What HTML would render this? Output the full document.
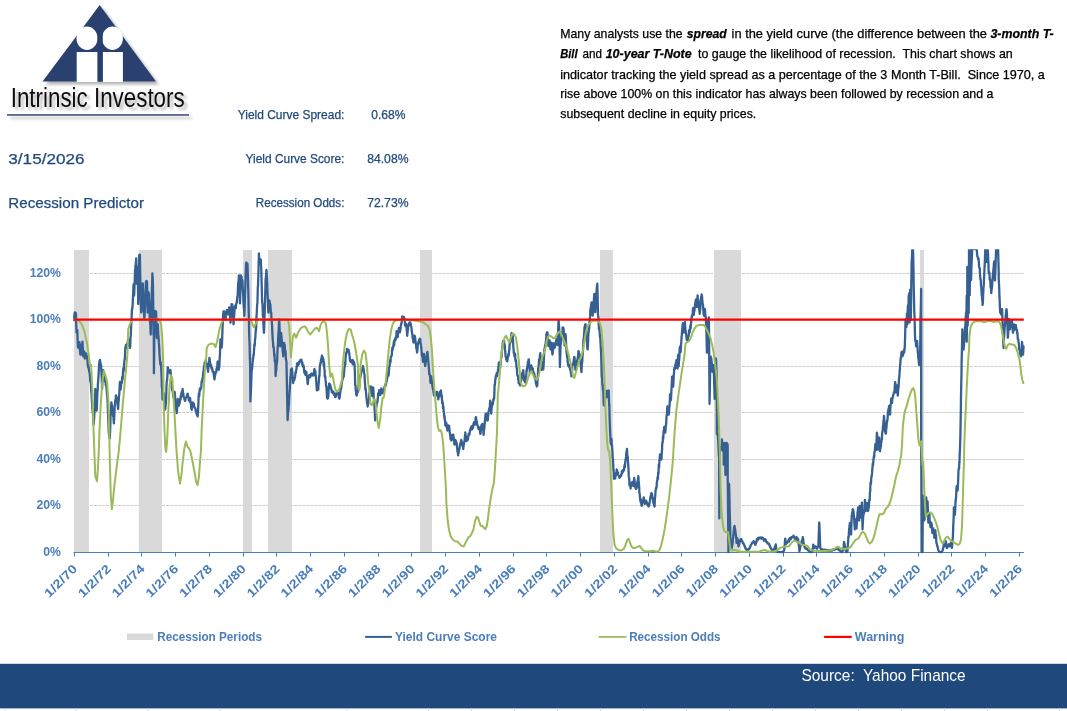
<!DOCTYPE html>
<html lang="en"><head><meta charset="utf-8"><title>Recession Predictor</title>
<style>html,body{margin:0;padding:0;background:#fff;width:1067px;height:711px;overflow:hidden}</style></head>
<body>
<svg width="1067" height="711" viewBox="0 0 1067 711" style="position:absolute;left:0;top:0;display:block" font-family="'Liberation Sans', sans-serif">
<defs><filter id="ds" filterUnits="userSpaceOnUse" x="0" y="0" width="220" height="130"><feGaussianBlur in="SourceAlpha" stdDeviation="1.5"/><feOffset dx="2.5" dy="2.5"/><feComponentTransfer><feFuncA type="linear" slope="0.3"/></feComponentTransfer><feMerge><feMergeNode/><feMergeNode in="SourceGraphic"/></feMerge></filter></defs>
<rect width="1067" height="711" fill="#fff"/>
<g id="logo">
<g filter="url(#ds)">
<path d="M99.7 5 L156 81.5 L42.5 81.5 Z" fill="#2B3F6E"/>
<text x="10.7" y="107" font-size="27.5" textLength="174" lengthAdjust="spacingAndGlyphs" fill="#111">Intrinsic Investors</text>
<rect x="7" y="114.2" width="182" height="1.5" fill="#33477A"/>
</g>
<ellipse cx="87" cy="38.2" rx="10.5" ry="11.7" fill="#fff"/><ellipse cx="112.5" cy="38.2" rx="10.4" ry="11.7" fill="#fff"/>
<rect x="76.7" y="52" width="20.9" height="30" fill="#fff"/><rect x="102.7" y="52" width="20.2" height="30" fill="#fff"/>
<rect x="97.6" y="30" width="5.1" height="51.5" fill="#2B3F6E"/>
</g>
<text x="8.3" y="163.7" font-size="14.80" text-anchor="start" fill="#1F497D" stroke="#1F497D" stroke-width="0.25" textLength="76.3" lengthAdjust="spacingAndGlyphs" >3/15/2026</text>
<text x="8.3" y="207.8" font-size="14.80" text-anchor="start" fill="#1F497D" stroke="#1F497D" stroke-width="0.25" textLength="135.7" lengthAdjust="spacingAndGlyphs" >Recession Predictor</text>
<text x="237.7" y="119.0" font-size="12.00" text-anchor="start" fill="#1F497D" stroke="#1F497D" stroke-width="0.25" textLength="106.7" lengthAdjust="spacingAndGlyphs" >Yield Curve Spread:</text>
<text x="245.6" y="162.9" font-size="12.00" text-anchor="start" fill="#1F497D" stroke="#1F497D" stroke-width="0.25" textLength="98.8" lengthAdjust="spacingAndGlyphs" >Yield Curve Score:</text>
<text x="255.8" y="206.8" font-size="12.00" text-anchor="start" fill="#1F497D" stroke="#1F497D" stroke-width="0.25" textLength="88.6" lengthAdjust="spacingAndGlyphs" >Recession Odds:</text>
<text x="371.2" y="119.0" font-size="12.00" text-anchor="start" fill="#1F497D" stroke="#1F497D" stroke-width="0.25" textLength="34.2" lengthAdjust="spacingAndGlyphs" >0.68%</text>
<text x="367.2" y="162.9" font-size="12.00" text-anchor="start" fill="#1F497D" stroke="#1F497D" stroke-width="0.25" textLength="41.3" lengthAdjust="spacingAndGlyphs" >84.08%</text>
<text x="367.2" y="206.8" font-size="12.00" text-anchor="start" fill="#1F497D" stroke="#1F497D" stroke-width="0.25" textLength="41.3" lengthAdjust="spacingAndGlyphs" >72.73%</text>
<text x="560.2" y="38.3" font-size="12.60" text-anchor="start" fill="#000" stroke="#000" stroke-width="0.25" textLength="122.5" lengthAdjust="spacingAndGlyphs" >Many analysts use the</text>
<text x="686.7" y="38.3" font-size="12.60" text-anchor="start" fill="#000" stroke="#000" stroke-width="0.25" textLength="40.0" lengthAdjust="spacingAndGlyphs" font-weight="bold" font-style="italic">spread</text>
<text x="731.6" y="38.3" font-size="12.60" text-anchor="start" fill="#000" stroke="#000" stroke-width="0.25" textLength="255.4" lengthAdjust="spacingAndGlyphs" >in the yield curve (the difference between the</text>
<text x="990.4" y="38.3" font-size="12.60" text-anchor="start" fill="#000" stroke="#000" stroke-width="0.25" textLength="63.3" lengthAdjust="spacingAndGlyphs" font-weight="bold" font-style="italic">3-month T-</text>
<text x="560.2" y="58.3" font-size="12.60" text-anchor="start" fill="#000" stroke="#000" stroke-width="0.25" textLength="17.3" lengthAdjust="spacingAndGlyphs" font-weight="bold" font-style="italic">Bill</text>
<text x="582.5" y="58.3" font-size="12.60" text-anchor="start" fill="#000" stroke="#000" stroke-width="0.25" textLength="19.5" lengthAdjust="spacingAndGlyphs" >and</text>
<text x="605.7" y="58.3" font-size="12.60" text-anchor="start" fill="#000" stroke="#000" stroke-width="0.25" textLength="85.9" lengthAdjust="spacingAndGlyphs" font-weight="bold" font-style="italic">10-year T-Note</text>
<text x="698.0" y="58.3" font-size="12.60" text-anchor="start" fill="#000" stroke="#000" stroke-width="0.25" textLength="314.7" lengthAdjust="spacingAndGlyphs" xml:space="preserve">to gauge the likelihood of recession.  This chart shows an</text>
<text x="560.2" y="78.5" font-size="12.60" text-anchor="start" fill="#000" stroke="#000" stroke-width="0.25" textLength="484.6" lengthAdjust="spacingAndGlyphs" xml:space="preserve">indicator tracking the yield spread as a percentage of the 3 Month T-Bill.  Since 1970, a</text>
<text x="560.2" y="98.0" font-size="12.60" text-anchor="start" fill="#000" stroke="#000" stroke-width="0.25" textLength="433.2" lengthAdjust="spacingAndGlyphs" >rise above 100% on this indicator has always been followed by recession and a</text>
<text x="560.2" y="117.5" font-size="12.60" text-anchor="start" fill="#000" stroke="#000" stroke-width="0.25" textLength="196.1" lengthAdjust="spacingAndGlyphs" >subsequent decline in equity prices.</text>
<g id="chart">
<clipPath id="cp"><rect x="73" y="249.2" width="952" height="304.5"/></clipPath>
<rect x="74.0" y="250" width="14.9" height="302.2" fill="#D9D9D9"/>
<rect x="138.9" y="250" width="23.1" height="302.2" fill="#D9D9D9"/>
<rect x="243.2" y="250" width="8.6" height="302.2" fill="#D9D9D9"/>
<rect x="268.0" y="250" width="23.8" height="302.2" fill="#D9D9D9"/>
<rect x="420.2" y="250" width="11.8" height="302.2" fill="#D9D9D9"/>
<rect x="600.2" y="250" width="12.5" height="302.2" fill="#D9D9D9"/>
<rect x="714.1" y="250" width="26.7" height="302.2" fill="#D9D9D9"/>
<rect x="920.3" y="250" width="3.5" height="302.2" fill="#D9D9D9"/>
<line x1="74" x2="1023.8" y1="505.5" y2="505.5" stroke="#CBCBCB" stroke-width="1" stroke-dasharray="3 1"/>
<line x1="74" x2="1023.8" y1="459.5" y2="459.5" stroke="#CBCBCB" stroke-width="1" stroke-dasharray="3 1"/>
<line x1="74" x2="1023.8" y1="412.5" y2="412.5" stroke="#CBCBCB" stroke-width="1" stroke-dasharray="3 1"/>
<line x1="74" x2="1023.8" y1="366.5" y2="366.5" stroke="#CBCBCB" stroke-width="1" stroke-dasharray="3 1"/>
<line x1="74" x2="1023.8" y1="319.5" y2="319.5" stroke="#CBCBCB" stroke-width="1" stroke-dasharray="3 1"/>
<line x1="74" x2="1023.8" y1="273.5" y2="273.5" stroke="#CBCBCB" stroke-width="1" stroke-dasharray="3 1"/>
<rect x="74.0" y="250" width="14.9" height="302.2" fill="#D9D9D9"/>
<rect x="138.9" y="250" width="23.1" height="302.2" fill="#D9D9D9"/>
<rect x="243.2" y="250" width="8.6" height="302.2" fill="#D9D9D9"/>
<rect x="268.0" y="250" width="23.8" height="302.2" fill="#D9D9D9"/>
<rect x="420.2" y="250" width="11.8" height="302.2" fill="#D9D9D9"/>
<rect x="600.2" y="250" width="12.5" height="302.2" fill="#D9D9D9"/>
<rect x="714.1" y="250" width="26.7" height="302.2" fill="#D9D9D9"/>
<rect x="920.3" y="250" width="3.5" height="302.2" fill="#D9D9D9"/>
<line x1="73.5" x2="1023.8" y1="552.5" y2="552.5" stroke="#4A7EBB" stroke-width="1"/>
<line x1="74.5" x2="74.5" y1="552.5" y2="556.6" stroke="#4A7EBB" stroke-width="1"/>
<text transform="translate(77.9,569.5) rotate(-45)" font-size="12.2" font-weight="bold" text-anchor="end" fill="#4A7EBB" textLength="40.5" lengthAdjust="spacingAndGlyphs">1/2/70</text>
<line x1="108.5" x2="108.5" y1="552.5" y2="556.6" stroke="#4A7EBB" stroke-width="1"/>
<text transform="translate(111.7,569.5) rotate(-45)" font-size="12.2" font-weight="bold" text-anchor="end" fill="#4A7EBB" textLength="40.5" lengthAdjust="spacingAndGlyphs">1/2/72</text>
<line x1="141.5" x2="141.5" y1="552.5" y2="556.6" stroke="#4A7EBB" stroke-width="1"/>
<text transform="translate(145.4,569.5) rotate(-45)" font-size="12.2" font-weight="bold" text-anchor="end" fill="#4A7EBB" textLength="40.5" lengthAdjust="spacingAndGlyphs">1/2/74</text>
<line x1="175.5" x2="175.5" y1="552.5" y2="556.6" stroke="#4A7EBB" stroke-width="1"/>
<text transform="translate(179.2,569.5) rotate(-45)" font-size="12.2" font-weight="bold" text-anchor="end" fill="#4A7EBB" textLength="40.5" lengthAdjust="spacingAndGlyphs">1/2/76</text>
<line x1="209.5" x2="209.5" y1="552.5" y2="556.6" stroke="#4A7EBB" stroke-width="1"/>
<text transform="translate(212.9,569.5) rotate(-45)" font-size="12.2" font-weight="bold" text-anchor="end" fill="#4A7EBB" textLength="40.5" lengthAdjust="spacingAndGlyphs">1/2/78</text>
<line x1="243.5" x2="243.5" y1="552.5" y2="556.6" stroke="#4A7EBB" stroke-width="1"/>
<text transform="translate(246.7,569.5) rotate(-45)" font-size="12.2" font-weight="bold" text-anchor="end" fill="#4A7EBB" textLength="40.5" lengthAdjust="spacingAndGlyphs">1/2/80</text>
<line x1="276.5" x2="276.5" y1="552.5" y2="556.6" stroke="#4A7EBB" stroke-width="1"/>
<text transform="translate(280.4,569.5) rotate(-45)" font-size="12.2" font-weight="bold" text-anchor="end" fill="#4A7EBB" textLength="40.5" lengthAdjust="spacingAndGlyphs">1/2/82</text>
<line x1="310.5" x2="310.5" y1="552.5" y2="556.6" stroke="#4A7EBB" stroke-width="1"/>
<text transform="translate(314.1,569.5) rotate(-45)" font-size="12.2" font-weight="bold" text-anchor="end" fill="#4A7EBB" textLength="40.5" lengthAdjust="spacingAndGlyphs">1/2/84</text>
<line x1="344.5" x2="344.5" y1="552.5" y2="556.6" stroke="#4A7EBB" stroke-width="1"/>
<text transform="translate(347.9,569.5) rotate(-45)" font-size="12.2" font-weight="bold" text-anchor="end" fill="#4A7EBB" textLength="40.5" lengthAdjust="spacingAndGlyphs">1/2/86</text>
<line x1="378.5" x2="378.5" y1="552.5" y2="556.6" stroke="#4A7EBB" stroke-width="1"/>
<text transform="translate(381.6,569.5) rotate(-45)" font-size="12.2" font-weight="bold" text-anchor="end" fill="#4A7EBB" textLength="40.5" lengthAdjust="spacingAndGlyphs">1/2/88</text>
<line x1="411.5" x2="411.5" y1="552.5" y2="556.6" stroke="#4A7EBB" stroke-width="1"/>
<text transform="translate(415.4,569.5) rotate(-45)" font-size="12.2" font-weight="bold" text-anchor="end" fill="#4A7EBB" textLength="40.5" lengthAdjust="spacingAndGlyphs">1/2/90</text>
<line x1="445.5" x2="445.5" y1="552.5" y2="556.6" stroke="#4A7EBB" stroke-width="1"/>
<text transform="translate(449.1,569.5) rotate(-45)" font-size="12.2" font-weight="bold" text-anchor="end" fill="#4A7EBB" textLength="40.5" lengthAdjust="spacingAndGlyphs">1/2/92</text>
<line x1="479.5" x2="479.5" y1="552.5" y2="556.6" stroke="#4A7EBB" stroke-width="1"/>
<text transform="translate(482.9,569.5) rotate(-45)" font-size="12.2" font-weight="bold" text-anchor="end" fill="#4A7EBB" textLength="40.5" lengthAdjust="spacingAndGlyphs">1/2/94</text>
<line x1="513.5" x2="513.5" y1="552.5" y2="556.6" stroke="#4A7EBB" stroke-width="1"/>
<text transform="translate(516.6,569.5) rotate(-45)" font-size="12.2" font-weight="bold" text-anchor="end" fill="#4A7EBB" textLength="40.5" lengthAdjust="spacingAndGlyphs">1/2/96</text>
<line x1="546.5" x2="546.5" y1="552.5" y2="556.6" stroke="#4A7EBB" stroke-width="1"/>
<text transform="translate(550.4,569.5) rotate(-45)" font-size="12.2" font-weight="bold" text-anchor="end" fill="#4A7EBB" textLength="40.5" lengthAdjust="spacingAndGlyphs">1/2/98</text>
<line x1="580.5" x2="580.5" y1="552.5" y2="556.6" stroke="#4A7EBB" stroke-width="1"/>
<text transform="translate(584.1,569.5) rotate(-45)" font-size="12.2" font-weight="bold" text-anchor="end" fill="#4A7EBB" textLength="40.5" lengthAdjust="spacingAndGlyphs">1/2/00</text>
<line x1="614.5" x2="614.5" y1="552.5" y2="556.6" stroke="#4A7EBB" stroke-width="1"/>
<text transform="translate(617.9,569.5) rotate(-45)" font-size="12.2" font-weight="bold" text-anchor="end" fill="#4A7EBB" textLength="40.5" lengthAdjust="spacingAndGlyphs">1/2/02</text>
<line x1="648.5" x2="648.5" y1="552.5" y2="556.6" stroke="#4A7EBB" stroke-width="1"/>
<text transform="translate(651.6,569.5) rotate(-45)" font-size="12.2" font-weight="bold" text-anchor="end" fill="#4A7EBB" textLength="40.5" lengthAdjust="spacingAndGlyphs">1/2/04</text>
<line x1="681.5" x2="681.5" y1="552.5" y2="556.6" stroke="#4A7EBB" stroke-width="1"/>
<text transform="translate(685.4,569.5) rotate(-45)" font-size="12.2" font-weight="bold" text-anchor="end" fill="#4A7EBB" textLength="40.5" lengthAdjust="spacingAndGlyphs">1/2/06</text>
<line x1="715.5" x2="715.5" y1="552.5" y2="556.6" stroke="#4A7EBB" stroke-width="1"/>
<text transform="translate(719.1,569.5) rotate(-45)" font-size="12.2" font-weight="bold" text-anchor="end" fill="#4A7EBB" textLength="40.5" lengthAdjust="spacingAndGlyphs">1/2/08</text>
<line x1="749.5" x2="749.5" y1="552.5" y2="556.6" stroke="#4A7EBB" stroke-width="1"/>
<text transform="translate(752.9,569.5) rotate(-45)" font-size="12.2" font-weight="bold" text-anchor="end" fill="#4A7EBB" textLength="40.5" lengthAdjust="spacingAndGlyphs">1/2/10</text>
<line x1="783.5" x2="783.5" y1="552.5" y2="556.6" stroke="#4A7EBB" stroke-width="1"/>
<text transform="translate(786.6,569.5) rotate(-45)" font-size="12.2" font-weight="bold" text-anchor="end" fill="#4A7EBB" textLength="40.5" lengthAdjust="spacingAndGlyphs">1/2/12</text>
<line x1="816.5" x2="816.5" y1="552.5" y2="556.6" stroke="#4A7EBB" stroke-width="1"/>
<text transform="translate(820.4,569.5) rotate(-45)" font-size="12.2" font-weight="bold" text-anchor="end" fill="#4A7EBB" textLength="40.5" lengthAdjust="spacingAndGlyphs">1/2/14</text>
<line x1="850.5" x2="850.5" y1="552.5" y2="556.6" stroke="#4A7EBB" stroke-width="1"/>
<text transform="translate(854.1,569.5) rotate(-45)" font-size="12.2" font-weight="bold" text-anchor="end" fill="#4A7EBB" textLength="40.5" lengthAdjust="spacingAndGlyphs">1/2/16</text>
<line x1="884.5" x2="884.5" y1="552.5" y2="556.6" stroke="#4A7EBB" stroke-width="1"/>
<text transform="translate(887.9,569.5) rotate(-45)" font-size="12.2" font-weight="bold" text-anchor="end" fill="#4A7EBB" textLength="40.5" lengthAdjust="spacingAndGlyphs">1/2/18</text>
<line x1="918.5" x2="918.5" y1="552.5" y2="556.6" stroke="#4A7EBB" stroke-width="1"/>
<text transform="translate(921.6,569.5) rotate(-45)" font-size="12.2" font-weight="bold" text-anchor="end" fill="#4A7EBB" textLength="40.5" lengthAdjust="spacingAndGlyphs">1/2/20</text>
<line x1="951.5" x2="951.5" y1="552.5" y2="556.6" stroke="#4A7EBB" stroke-width="1"/>
<text transform="translate(955.4,569.5) rotate(-45)" font-size="12.2" font-weight="bold" text-anchor="end" fill="#4A7EBB" textLength="40.5" lengthAdjust="spacingAndGlyphs">1/2/22</text>
<line x1="985.5" x2="985.5" y1="552.5" y2="556.6" stroke="#4A7EBB" stroke-width="1"/>
<text transform="translate(989.1,569.5) rotate(-45)" font-size="12.2" font-weight="bold" text-anchor="end" fill="#4A7EBB" textLength="40.5" lengthAdjust="spacingAndGlyphs">1/2/24</text>
<line x1="1019.5" x2="1019.5" y1="552.5" y2="556.6" stroke="#4A7EBB" stroke-width="1"/>
<text transform="translate(1022.9,569.5) rotate(-45)" font-size="12.2" font-weight="bold" text-anchor="end" fill="#4A7EBB" textLength="40.5" lengthAdjust="spacingAndGlyphs">1/2/26</text>
<text x="60.8" y="555.8" font-size="12.2" font-weight="bold" text-anchor="end" fill="#4A7EBB">0%</text>
<text x="60.8" y="509.3" font-size="12.2" font-weight="bold" text-anchor="end" fill="#4A7EBB">20%</text>
<text x="60.8" y="463.3" font-size="12.2" font-weight="bold" text-anchor="end" fill="#4A7EBB">40%</text>
<text x="60.8" y="416.3" font-size="12.2" font-weight="bold" text-anchor="end" fill="#4A7EBB">60%</text>
<text x="60.8" y="370.3" font-size="12.2" font-weight="bold" text-anchor="end" fill="#4A7EBB">80%</text>
<text x="60.8" y="323.3" font-size="12.2" font-weight="bold" text-anchor="end" fill="#4A7EBB">100%</text>
<text x="60.8" y="277.3" font-size="12.2" font-weight="bold" text-anchor="end" fill="#4A7EBB">120%</text>
<path d="M74.1 318.9 L74.1 320.1 L74.4 314.8 L74.7 313.2 L74.7 312.5 L75.0 313.8 L75.3 312.5 L75.6 313.1 L75.7 313.4 L75.9 313.1 L76.2 323.1 L76.4 329.4 L76.5 332.2 L76.8 332.6 L77.1 332.9 L77.4 330.2 L77.4 332.8 L77.7 343.0 L77.8 344.6 L78.0 347.3 L78.3 344.2 L78.6 348.0 L78.8 348.0 L78.9 344.5 L79.2 343.2 L79.5 342.1 L79.5 342.9 L79.8 346.0 L80.1 352.8 L80.1 353.0 L80.4 354.5 L80.7 353.3 L81.0 353.8 L81.1 354.7 L81.3 351.9 L81.6 347.3 L81.8 344.6 L81.9 345.2 L82.2 344.1 L82.5 341.6 L82.5 342.9 L82.8 348.1 L83.1 353.9 L83.2 356.4 L83.4 356.2 L83.7 354.4 L84.0 352.8 L84.2 351.3 L84.3 352.0 L84.6 356.1 L84.9 358.5 L85.2 357.0 L85.2 358.1 L85.5 356.1 L85.8 357.4 L86.1 353.4 L86.2 354.7 L86.4 355.0 L86.7 355.1 L87.0 358.3 L87.3 358.7 L87.6 361.9 L87.6 363.1 L87.9 365.9 L88.2 367.6 L88.5 367.9 L88.6 366.5 L88.8 368.4 L89.1 371.2 L89.4 372.1 L89.7 373.4 L90.0 377.5 L90.3 381.7 L90.3 380.3 L90.6 381.0 L90.9 384.2 L91.2 392.0 L91.5 392.6 L91.6 395.5 L91.8 398.9 L92.1 403.6 L92.4 409.3 L92.6 410.7 L92.7 410.7 L93.0 414.6 L93.3 420.4 L93.6 424.3 L93.6 424.2 L93.9 421.3 L94.2 417.0 L94.5 411.2 L94.8 407.4 L95.0 402.3 L95.1 398.5 L95.3 388.8 L95.4 390.7 L95.7 396.9 L96.0 398.1 L96.3 404.6 L96.6 408.0 L96.7 410.7 L96.9 406.5 L97.2 397.8 L97.5 391.0 L97.8 389.0 L97.8 385.4 L98.1 381.6 L98.4 377.4 L98.7 373.0 L99.0 365.9 L99.0 365.0 L99.3 363.1 L99.6 360.6 L99.9 362.1 L100.0 359.8 L100.2 361.8 L100.5 362.9 L100.8 364.7 L101.1 365.3 L101.1 365.0 L101.4 372.5 L101.7 377.7 L102.0 387.3 L102.1 388.8 L102.3 384.5 L102.6 379.5 L102.9 373.3 L103.1 370.2 L103.2 371.0 L103.5 373.2 L103.8 374.3 L104.1 374.8 L104.4 376.3 L104.6 378.6 L104.7 380.1 L105.0 379.6 L105.3 382.0 L105.6 381.6 L105.8 385.4 L105.9 384.5 L106.2 384.7 L106.5 387.8 L106.8 391.5 L107.1 394.6 L107.1 392.1 L107.4 398.2 L107.7 403.2 L108.0 412.7 L108.0 412.4 L108.3 419.8 L108.6 428.1 L108.8 432.6 L108.9 433.0 L109.2 436.5 L109.5 435.9 L109.8 437.1 L109.8 438.5 L110.1 431.2 L110.4 422.2 L110.5 415.8 L110.7 413.9 L111.0 408.6 L111.3 403.8 L111.4 402.3 L111.6 404.1 L111.9 404.8 L112.2 407.1 L112.5 411.4 L112.5 409.0 L112.8 413.9 L113.1 416.4 L113.4 416.0 L113.7 421.1 L113.9 423.4 L114.0 421.5 L114.3 416.8 L114.6 408.8 L114.7 405.6 L114.9 405.8 L115.2 401.3 L115.5 399.2 L115.8 398.6 L115.9 395.5 L116.1 396.6 L116.4 399.8 L116.7 398.5 L117.0 397.8 L117.3 401.8 L117.3 400.6 L117.6 403.6 L117.9 406.5 L118.1 409.0 L118.2 406.8 L118.5 402.1 L118.8 400.4 L118.9 395.5 L119.1 396.2 L119.4 392.3 L119.7 384.8 L119.8 383.7 L120.0 381.9 L120.3 386.8 L120.6 389.7 L120.6 388.8 L120.9 388.3 L121.2 382.8 L121.5 382.0 L121.8 383.0 L122.0 380.3 L122.1 377.2 L122.4 379.8 L122.7 378.5 L123.0 371.9 L123.2 371.9 L123.3 368.5 L123.6 371.6 L123.9 367.9 L124.0 365.0 L124.2 363.1 L124.5 360.0 L124.8 359.3 L125.1 352.6 L125.4 347.4 L125.7 347.5 L125.7 346.3 L126.0 344.9 L126.3 346.8 L126.6 348.1 L126.9 344.4 L127.2 343.8 L127.4 344.6 L127.5 342.6 L127.8 343.7 L128.1 338.8 L128.2 339.5 L128.4 342.3 L128.7 342.8 L129.0 345.6 L129.3 346.5 L129.6 344.3 L129.9 345.7 L129.9 348.0 L130.2 346.7 L130.5 337.5 L130.8 335.4 L131.1 326.5 L131.1 327.7 L131.4 320.8 L131.7 316.3 L131.8 312.5 L132.0 308.9 L132.3 308.4 L132.6 305.7 L132.8 300.7 L132.9 298.3 L133.2 292.2 L133.5 284.5 L133.5 287.2 L133.8 290.4 L134.1 292.0 L134.1 295.6 L134.4 289.6 L134.7 281.3 L135.0 271.6 L135.0 270.3 L135.3 268.2 L135.6 264.8 L135.9 262.6 L136.2 258.7 L136.2 258.5 L136.5 271.6 L136.8 279.8 L136.8 283.8 L137.1 276.3 L137.4 269.6 L137.5 266.9 L137.7 275.5 L138.0 289.5 L138.2 304.1 L138.3 302.6 L138.6 288.8 L138.9 272.2 L139.2 255.3 L139.2 255.1 L139.5 255.6 L139.8 254.6 L139.9 255.1 L140.1 267.6 L140.4 283.0 L140.5 295.6 L140.7 297.7 L141.0 305.6 L141.2 312.5 L141.3 311.5 L141.6 299.2 L141.9 289.8 L141.9 288.9 L142.2 289.1 L142.5 286.9 L142.8 283.4 L142.9 285.5 L143.1 290.6 L143.4 301.5 L143.6 310.8 L143.7 311.3 L144.0 312.5 L144.3 318.1 L144.3 319.3 L144.6 314.4 L144.9 309.2 L145.2 304.1 L145.3 299.0 L145.5 295.9 L145.8 286.9 L145.9 282.1 L146.1 283.8 L146.4 280.8 L146.7 281.9 L147.0 281.5 L147.0 281.3 L147.3 294.4 L147.6 307.1 L147.6 312.5 L147.9 307.2 L148.2 303.1 L148.5 294.9 L148.6 292.3 L148.8 293.7 L149.1 300.8 L149.4 308.0 L149.7 316.8 L149.7 315.9 L150.0 321.4 L150.3 323.8 L150.6 333.0 L150.7 334.5 L150.9 327.7 L151.2 317.9 L151.5 304.7 L151.7 295.6 L151.8 292.5 L152.1 285.3 L152.4 273.4 L152.4 273.7 L152.7 278.6 L153.0 285.4 L153.0 287.2 L153.3 311.1 L153.5 335.0 L153.6 329.3 L153.7 315.9 L153.9 357.4 L153.9 373.3 L154.2 351.4 L154.3 338.0 L154.4 329.4 L154.5 329.3 L154.8 320.4 L155.1 318.8 L155.4 312.1 L155.4 310.8 L155.7 311.6 L156.0 311.6 L156.1 312.5 L156.3 318.5 L156.6 330.9 L156.8 337.0 L156.9 338.0 L157.2 330.0 L157.5 326.5 L157.8 325.5 L157.8 324.3 L158.1 331.2 L158.4 337.0 L158.7 339.4 L158.8 342.9 L159.0 344.2 L159.3 348.6 L159.5 354.7 L159.6 355.0 L159.9 359.1 L160.2 364.0 L160.5 362.1 L160.5 365.0 L160.8 362.6 L161.1 366.0 L161.1 365.1 L161.4 373.0 L161.7 379.5 L161.8 387.1 L162.0 387.0 L162.3 391.9 L162.5 398.9 L162.6 399.6 L162.9 396.7 L163.2 395.7 L163.5 397.5 L163.8 393.5 L163.8 395.5 L164.1 398.4 L164.4 401.1 L164.7 404.1 L164.9 409.0 L165.0 409.5 L165.3 408.8 L165.6 405.3 L165.9 403.4 L165.9 403.9 L166.2 397.3 L166.5 385.3 L166.5 385.4 L166.8 380.9 L167.1 380.2 L167.4 375.9 L167.6 370.2 L167.7 367.5 L168.0 367.5 L168.3 372.4 L168.6 370.7 L168.9 372.4 L169.2 371.8 L169.5 371.6 L169.6 371.9 L169.8 373.0 L170.1 373.1 L170.4 369.9 L170.7 373.0 L170.9 373.6 L171.0 376.2 L171.3 379.5 L171.6 382.8 L171.9 386.6 L171.9 387.1 L172.2 390.3 L172.5 389.0 L172.8 391.5 L173.1 394.8 L173.3 395.5 L173.4 397.3 L173.7 393.5 L174.0 391.9 L174.3 391.7 L174.6 392.0 L174.6 392.1 L174.9 393.3 L175.2 399.7 L175.5 404.8 L175.5 403.9 L175.8 405.5 L176.1 410.0 L176.4 410.4 L176.7 413.2 L176.7 413.2 L177.0 411.0 L177.3 405.7 L177.6 400.7 L177.7 398.9 L177.9 400.4 L178.2 401.5 L178.5 404.2 L178.8 403.7 L178.9 405.6 L179.1 402.5 L179.4 404.1 L179.7 402.4 L180.0 400.8 L180.0 400.6 L180.3 398.1 L180.6 399.5 L180.9 395.3 L181.2 396.6 L181.4 393.8 L181.5 393.0 L181.8 391.7 L182.1 392.0 L182.4 390.7 L182.6 388.8 L182.7 389.8 L183.0 392.6 L183.3 393.5 L183.4 395.5 L183.6 396.8 L183.9 397.4 L184.2 397.7 L184.5 399.6 L184.8 399.5 L184.8 400.6 L185.1 400.8 L185.4 399.8 L185.7 397.8 L186.0 397.5 L186.3 397.1 L186.5 397.2 L186.6 396.9 L186.9 395.5 L187.2 394.8 L187.5 394.5 L187.6 393.8 L187.8 393.7 L188.1 396.5 L188.4 397.2 L188.7 398.6 L189.0 400.7 L189.0 400.6 L189.3 398.8 L189.6 401.3 L189.9 397.9 L190.2 399.1 L190.2 398.9 L190.5 402.5 L190.8 402.1 L191.1 406.1 L191.4 409.1 L191.5 409.0 L191.7 409.8 L192.0 406.4 L192.3 405.8 L192.6 405.5 L192.9 402.8 L192.9 402.3 L193.2 404.3 L193.5 404.5 L193.8 403.5 L194.1 405.2 L194.1 405.6 L194.4 407.7 L194.7 407.3 L195.0 408.1 L195.3 408.5 L195.6 409.2 L195.7 410.7 L195.9 411.3 L196.2 411.2 L196.5 413.7 L196.8 410.8 L197.1 415.3 L197.4 411.9 L197.7 416.5 L197.8 414.9 L198.0 410.7 L198.3 406.1 L198.6 398.1 L198.6 397.2 L198.9 393.4 L199.2 396.1 L199.5 392.1 L199.5 391.3 L199.8 389.0 L200.1 390.7 L200.4 387.9 L200.7 388.5 L200.8 388.8 L201.0 388.5 L201.3 386.9 L201.6 382.1 L201.9 380.9 L202.0 382.0 L202.2 380.5 L202.5 378.6 L202.8 378.4 L203.1 374.5 L203.3 371.9 L203.4 373.6 L203.7 369.3 L204.0 366.5 L204.3 365.4 L204.5 365.1 L204.6 362.7 L204.9 363.3 L205.2 363.2 L205.5 362.5 L205.8 359.8 L205.9 360.1 L206.1 361.4 L206.4 362.7 L206.7 363.8 L206.7 363.4 L207.0 366.4 L207.3 367.0 L207.6 368.6 L207.9 370.7 L208.1 371.9 L208.2 369.6 L208.5 366.5 L208.8 364.9 L209.1 361.6 L209.4 358.0 L209.4 358.4 L209.7 359.6 L210.0 362.3 L210.3 364.0 L210.4 365.1 L210.6 365.2 L210.9 366.5 L211.2 365.1 L211.5 368.7 L211.8 368.6 L211.8 367.7 L212.1 367.9 L212.4 370.1 L212.7 371.7 L213.0 371.2 L213.3 371.9 L213.5 371.9 L213.6 373.1 L213.9 375.8 L214.2 377.9 L214.5 378.9 L214.5 379.5 L214.8 376.7 L215.1 375.4 L215.4 373.9 L215.5 373.6 L215.7 372.2 L216.0 371.7 L216.3 372.0 L216.6 368.4 L216.8 368.5 L216.9 367.8 L217.2 368.3 L217.5 362.2 L217.8 361.5 L217.8 361.8 L218.1 363.6 L218.4 367.1 L218.7 369.9 L218.9 369.3 L219.0 366.8 L219.3 367.2 L219.6 360.3 L219.9 354.8 L219.9 356.7 L220.2 345.2 L220.4 339.5 L220.5 339.5 L220.8 343.2 L221.1 340.3 L221.4 342.7 L221.7 347.7 L221.7 346.3 L222.0 343.8 L222.3 334.1 L222.4 332.8 L222.6 326.1 L222.9 321.4 L223.1 314.2 L223.2 315.9 L223.5 311.3 L223.8 313.9 L224.1 311.4 L224.4 314.0 L224.4 313.4 L224.7 312.3 L225.0 314.3 L225.3 318.3 L225.4 319.3 L225.6 319.7 L225.9 315.5 L226.2 313.4 L226.5 311.5 L226.8 311.1 L226.8 310.0 L227.1 310.2 L227.4 311.3 L227.7 312.5 L228.0 314.4 L228.1 314.2 L228.3 313.1 L228.6 311.4 L228.9 309.4 L229.2 307.5 L229.2 307.4 L229.5 310.6 L229.8 315.0 L230.1 316.7 L230.4 320.9 L230.5 322.6 L230.7 319.0 L231.0 315.8 L231.3 308.7 L231.5 304.1 L231.6 305.8 L231.9 305.0 L232.2 304.4 L232.5 307.1 L232.5 305.8 L232.8 308.9 L233.1 315.9 L233.4 321.9 L233.5 324.3 L233.7 321.4 L234.0 317.5 L234.3 313.6 L234.6 308.8 L234.6 309.1 L234.9 307.5 L235.2 306.0 L235.5 305.3 L235.6 305.8 L235.8 308.2 L236.1 304.3 L236.4 303.6 L236.7 301.6 L236.9 302.4 L237.0 300.1 L237.3 297.0 L237.6 295.4 L237.9 291.9 L237.9 288.9 L238.2 284.0 L238.5 281.4 L238.8 278.5 L238.9 275.4 L239.1 278.5 L239.4 284.4 L239.7 291.7 L240.0 303.4 L240.0 302.4 L240.3 293.7 L240.6 286.3 L240.9 279.9 L241.0 275.4 L241.2 277.2 L241.5 276.6 L241.8 280.1 L242.1 282.0 L242.3 280.4 L242.4 281.0 L242.7 288.0 L243.0 292.1 L243.3 297.0 L243.3 299.0 L243.6 304.7 L243.9 308.8 L244.2 311.0 L244.3 315.9 L244.5 312.6 L244.8 301.8 L245.1 292.4 L245.4 283.3 L245.4 282.1 L245.7 273.6 L246.0 266.1 L246.0 263.6 L246.3 262.5 L246.6 263.2 L246.9 265.9 L247.2 265.0 L247.4 263.6 L247.5 264.9 L247.8 273.8 L248.1 285.3 L248.4 294.0 L248.4 295.6 L248.7 311.3 L249.0 322.1 L249.1 329.4 L249.3 338.2 L249.6 344.6 L249.9 358.6 L250.1 365.0 L250.2 374.3 L250.4 401.4 L250.5 398.8 L250.8 392.9 L251.1 387.0 L251.4 377.7 L251.6 371.9 L251.7 369.3 L252.0 369.8 L252.3 366.6 L252.4 365.1 L252.6 362.1 L252.8 361.5 L252.9 358.2 L253.2 358.4 L253.5 354.4 L253.8 354.9 L254.1 348.3 L254.1 349.6 L254.4 344.2 L254.7 345.9 L255.0 339.4 L255.3 338.4 L255.6 333.1 L255.8 329.4 L255.9 331.2 L256.2 326.6 L256.5 316.4 L256.8 312.6 L256.8 312.5 L257.1 305.2 L257.4 302.4 L257.7 293.3 L257.8 287.2 L258.0 286.3 L258.3 276.7 L258.6 265.5 L258.9 256.0 L258.9 253.4 L259.2 258.5 L259.5 258.8 L259.8 261.4 L259.9 261.9 L260.1 263.9 L260.4 261.3 L260.7 259.5 L260.9 261.0 L261.0 264.2 L261.3 270.8 L261.6 282.6 L261.9 293.2 L261.9 295.6 L262.2 302.5 L262.5 303.8 L262.8 311.6 L262.9 315.9 L263.1 317.1 L263.4 323.9 L263.7 329.2 L263.9 332.8 L264.0 332.0 L264.3 324.9 L264.6 314.7 L264.9 306.5 L264.9 304.1 L265.2 295.3 L265.5 283.6 L265.6 278.8 L265.8 278.9 L266.1 274.9 L266.4 270.0 L266.5 270.3 L266.7 274.4 L267.0 279.7 L267.3 284.7 L267.3 287.2 L267.6 293.9 L267.9 302.7 L268.2 309.1 L268.3 312.5 L268.5 309.0 L268.8 307.6 L269.1 303.3 L269.3 302.4 L269.4 300.4 L269.7 301.7 L270.0 305.8 L270.3 306.0 L270.3 304.1 L270.6 308.7 L270.9 313.5 L271.2 312.6 L271.4 317.6 L271.5 317.5 L271.8 321.3 L272.1 326.0 L272.4 334.7 L272.7 338.2 L272.7 339.5 L273.0 342.4 L273.3 347.2 L273.6 346.7 L273.9 349.5 L274.1 353.0 L274.2 355.8 L274.5 353.7 L274.8 361.8 L275.1 361.2 L275.4 363.4 L275.4 365.0 L275.6 376.1 L275.7 374.4 L276.0 370.0 L276.3 370.8 L276.6 362.8 L276.6 365.1 L276.9 360.9 L276.9 363.1 L277.2 359.2 L277.5 351.0 L277.8 345.6 L278.1 342.2 L278.1 339.5 L278.4 334.1 L278.7 329.9 L279.0 321.2 L279.1 319.3 L279.3 320.7 L279.6 328.7 L279.9 340.1 L280.1 346.3 L280.2 345.2 L280.5 340.3 L280.8 336.2 L281.1 334.1 L281.1 332.8 L281.4 336.3 L281.7 338.7 L282.0 342.9 L282.2 344.6 L282.3 345.7 L282.6 350.0 L282.9 353.1 L283.2 354.7 L283.2 356.4 L283.5 351.6 L283.8 351.5 L284.1 344.3 L284.2 342.9 L284.4 345.3 L284.7 344.5 L285.0 349.7 L285.3 352.1 L285.5 353.0 L285.6 351.3 L285.9 359.5 L286.2 359.8 L286.5 363.0 L286.5 365.0 L286.8 377.5 L287.1 395.2 L287.4 411.0 L287.6 420.0 L287.7 419.2 L288.0 412.5 L288.3 411.4 L288.6 408.4 L288.7 405.6 L288.9 404.8 L289.2 397.9 L289.5 393.2 L289.8 389.1 L289.9 385.4 L290.1 384.7 L290.4 376.9 L290.7 377.8 L290.9 371.9 L291.0 369.5 L291.3 372.9 L291.6 372.0 L291.9 369.4 L291.9 368.5 L292.2 371.5 L292.5 374.7 L292.8 378.9 L293.0 382.0 L293.1 383.0 L293.4 381.4 L293.7 380.2 L294.0 379.2 L294.3 380.1 L294.3 378.6 L294.6 378.7 L294.9 377.4 L295.2 376.2 L295.5 372.2 L295.7 371.9 L295.8 373.0 L296.1 370.4 L296.4 369.6 L296.7 366.8 L297.0 365.4 L297.0 363.4 L297.3 365.3 L297.6 364.6 L297.9 365.6 L298.0 365.0 L298.2 363.0 L298.5 363.7 L298.8 364.5 L299.1 361.6 L299.4 361.8 L299.7 361.8 L299.7 361.5 L300.0 361.1 L300.3 360.1 L300.6 359.9 L300.9 360.7 L301.2 360.1 L301.4 359.8 L301.5 360.3 L301.8 362.5 L302.1 363.9 L302.4 362.7 L302.7 366.2 L302.7 365.0 L303.0 365.7 L303.3 367.0 L303.4 366.8 L303.6 365.6 L303.9 368.0 L304.2 371.7 L304.5 372.9 L304.8 371.4 L304.8 371.9 L305.1 370.8 L305.4 374.8 L305.7 372.8 L306.0 374.8 L306.3 371.8 L306.5 373.6 L306.6 374.7 L306.9 376.3 L307.2 378.2 L307.5 382.1 L307.6 383.7 L307.8 384.0 L308.1 380.6 L308.4 378.0 L308.7 376.9 L308.8 375.3 L309.0 376.0 L309.3 376.1 L309.6 375.0 L309.9 376.8 L310.2 377.0 L310.2 376.1 L310.5 375.5 L310.8 375.9 L311.1 373.6 L311.4 373.6 L311.7 373.6 L311.9 373.6 L312.0 374.9 L312.3 374.6 L312.6 374.9 L312.9 375.5 L313.2 375.6 L313.2 375.3 L313.5 373.1 L313.8 374.2 L314.1 372.7 L314.4 368.9 L314.6 369.3 L314.7 370.3 L315.0 371.3 L315.3 371.0 L315.6 376.3 L315.9 376.0 L315.9 376.9 L316.2 380.7 L316.5 385.2 L316.8 389.4 L316.9 390.4 L317.1 390.3 L317.4 389.8 L317.7 387.8 L318.0 387.6 L318.3 389.8 L318.3 388.8 L318.6 383.5 L318.9 381.7 L319.2 375.7 L319.5 375.8 L319.6 371.9 L319.8 367.5 L320.0 365.0 L320.1 366.2 L320.4 362.8 L320.7 363.3 L321.0 359.5 L321.3 361.6 L321.6 357.6 L321.9 355.9 L322.0 355.5 L322.2 356.1 L322.5 356.8 L322.8 359.7 L323.1 358.3 L323.4 359.4 L323.7 365.5 L324.0 362.3 L324.2 365.0 L324.3 368.3 L324.6 370.1 L324.7 375.3 L324.9 377.0 L325.2 376.2 L325.5 379.9 L325.8 381.9 L325.9 383.7 L326.1 386.5 L326.4 386.3 L326.7 391.4 L327.0 397.3 L327.0 397.2 L327.3 398.4 L327.6 398.6 L327.9 398.1 L328.1 398.0 L328.2 397.5 L328.5 392.3 L328.8 387.9 L329.1 384.6 L329.1 383.7 L329.4 384.0 L329.7 383.7 L330.0 386.7 L330.3 384.8 L330.4 386.2 L330.6 387.4 L330.9 386.9 L331.2 389.3 L331.5 389.8 L331.8 392.1 L331.8 390.4 L332.1 391.1 L332.4 392.4 L332.7 391.3 L333.0 393.1 L333.3 391.6 L333.5 392.1 L333.6 393.7 L333.9 393.5 L334.2 394.9 L334.5 393.6 L334.8 395.0 L335.1 397.0 L335.4 396.3 L335.5 397.2 L335.7 396.8 L336.0 395.6 L336.3 393.6 L336.6 392.8 L336.8 393.0 L336.9 393.0 L337.2 393.0 L337.5 394.4 L337.8 393.4 L338.1 393.0 L338.4 393.1 L338.5 394.7 L338.7 394.8 L339.0 397.9 L339.3 398.7 L339.5 398.0 L339.6 398.0 L339.9 395.2 L340.2 393.0 L340.5 390.9 L340.5 388.8 L340.8 385.4 L341.1 388.7 L341.4 387.0 L341.7 383.0 L341.9 382.0 L342.0 380.8 L342.3 380.8 L342.6 379.4 L342.9 377.1 L343.2 374.7 L343.5 377.1 L343.6 375.3 L343.8 376.3 L344.1 372.6 L344.4 368.2 L344.7 366.8 L344.9 365.0 L345.0 363.0 L345.3 364.4 L345.6 357.3 L345.9 354.8 L346.1 353.0 L346.2 353.8 L346.5 353.4 L346.8 351.0 L347.1 348.9 L347.3 349.6 L347.4 349.4 L347.7 350.6 L348.0 349.6 L348.3 350.0 L348.6 349.7 L348.6 350.5 L348.9 351.3 L349.2 353.1 L349.5 355.6 L349.8 359.0 L350.1 360.9 L350.3 361.5 L350.4 360.1 L350.7 360.4 L351.0 360.8 L351.3 362.2 L351.6 362.4 L351.9 362.3 L352.2 360.2 L352.5 359.9 L352.8 364.4 L352.9 361.5 L353.1 362.4 L353.4 364.0 L353.7 361.3 L354.0 364.4 L354.3 363.1 L354.6 364.9 L354.6 365.0 L354.9 374.5 L355.1 382.0 L355.2 385.1 L355.5 385.3 L355.8 390.8 L356.1 391.4 L356.2 394.7 L356.4 395.0 L356.7 395.6 L357.0 391.9 L357.3 392.2 L357.4 392.1 L357.6 392.5 L357.9 390.7 L358.2 389.4 L358.5 386.3 L358.8 383.1 L358.8 383.7 L359.1 379.8 L359.4 382.3 L359.7 375.9 L360.0 379.0 L360.1 375.3 L360.3 377.4 L360.6 376.3 L360.9 374.0 L361.2 372.1 L361.5 369.9 L361.5 370.2 L361.8 370.7 L362.1 369.4 L362.4 368.8 L362.7 366.9 L363.0 366.0 L363.0 367.7 L363.3 369.9 L363.6 368.3 L363.9 373.1 L364.2 373.0 L364.2 373.6 L364.5 374.4 L364.8 380.4 L365.1 385.1 L365.4 389.7 L365.5 388.8 L365.7 388.5 L366.0 392.3 L366.3 395.9 L366.6 398.9 L366.9 400.5 L366.9 402.3 L367.2 403.2 L367.5 404.5 L367.6 406.5 L367.8 405.5 L368.1 404.6 L368.4 401.0 L368.7 401.0 L368.9 398.9 L369.0 398.5 L369.3 395.1 L369.6 392.3 L369.9 392.2 L370.0 388.4 L370.2 386.4 L370.5 388.2 L370.8 387.5 L371.1 388.2 L371.2 386.7 L371.4 387.4 L371.7 389.5 L372.0 395.8 L372.1 395.1 L372.3 392.9 L372.6 391.4 L372.9 387.6 L373.1 388.4 L373.2 387.7 L373.5 391.7 L373.8 398.3 L374.1 399.6 L374.1 401.9 L374.4 405.4 L374.7 411.8 L375.0 417.3 L375.1 420.4 L375.3 417.2 L375.6 415.8 L375.9 411.2 L376.1 406.9 L376.2 407.5 L376.5 406.0 L376.8 403.3 L377.1 403.1 L377.1 401.9 L377.4 402.1 L377.7 398.9 L378.0 397.3 L378.1 393.4 L378.3 394.7 L378.6 393.4 L378.9 393.2 L379.2 391.5 L379.2 390.1 L379.5 390.8 L379.8 393.1 L380.1 393.3 L380.2 395.1 L380.4 393.9 L380.7 392.7 L381.0 390.0 L381.3 389.1 L381.4 388.4 L381.6 388.9 L381.9 389.9 L382.2 391.4 L382.5 393.4 L382.5 393.4 L382.8 392.6 L383.1 391.5 L383.4 391.7 L383.5 390.1 L383.7 390.5 L384.0 390.2 L384.2 389.8 L384.3 388.1 L384.6 386.4 L384.9 386.8 L385.2 384.3 L385.5 385.9 L385.6 384.7 L385.8 385.6 L386.1 383.6 L386.4 380.5 L386.7 381.3 L386.9 378.0 L387.0 379.2 L387.3 377.3 L387.6 377.0 L387.9 373.7 L388.2 372.0 L388.3 374.6 L388.5 375.6 L388.8 373.4 L389.1 368.1 L389.3 366.1 L389.4 366.3 L389.7 366.0 L390.0 360.4 L390.3 362.6 L390.6 361.6 L390.6 359.4 L390.9 356.5 L391.2 356.5 L391.5 356.1 L391.8 355.1 L392.0 350.9 L392.1 350.1 L392.4 347.3 L392.7 349.5 L393.0 347.5 L393.2 345.9 L393.3 345.6 L393.6 344.1 L393.9 341.2 L394.2 345.5 L394.3 342.5 L394.5 341.6 L394.8 339.3 L395.1 339.0 L395.4 340.4 L395.7 337.2 L395.7 339.1 L396.0 338.7 L396.3 336.6 L396.6 331.2 L396.7 332.4 L396.9 333.4 L397.2 333.1 L397.5 334.1 L397.7 335.8 L397.8 337.0 L398.1 331.8 L398.4 331.2 L398.7 331.6 L398.7 329.0 L399.0 327.8 L399.3 331.0 L399.6 330.2 L399.9 330.8 L399.9 332.4 L400.2 329.9 L400.5 329.6 L400.8 326.0 L401.1 325.2 L401.1 323.9 L401.4 324.0 L401.7 322.0 L402.0 318.4 L402.1 317.2 L402.3 316.4 L402.6 318.0 L402.9 316.7 L403.1 318.0 L403.2 317.6 L403.5 317.4 L403.8 318.5 L404.1 317.5 L404.1 317.2 L404.4 318.5 L404.7 320.4 L405.0 324.1 L405.1 325.6 L405.3 325.6 L405.6 326.2 L405.9 324.5 L406.2 325.4 L406.2 323.9 L406.5 326.0 L406.8 331.1 L407.1 334.1 L407.2 335.8 L407.4 333.6 L407.7 331.0 L408.0 329.0 L408.2 325.6 L408.3 325.3 L408.6 325.8 L408.9 324.1 L409.2 323.0 L409.2 323.1 L409.5 322.4 L409.8 322.6 L410.1 324.6 L410.4 322.5 L410.5 323.9 L410.7 323.7 L411.0 326.0 L411.3 326.4 L411.6 329.2 L411.6 330.7 L411.9 331.4 L412.2 334.3 L412.5 334.9 L412.6 337.4 L412.8 338.9 L413.1 339.7 L413.4 342.4 L413.6 342.5 L413.7 340.4 L414.0 338.6 L414.3 337.8 L414.6 335.6 L414.6 335.8 L414.9 336.7 L415.2 338.2 L415.5 341.4 L415.6 342.5 L415.8 343.3 L416.1 345.6 L416.4 348.6 L416.7 349.4 L417.0 351.8 L417.0 352.6 L417.3 351.3 L417.6 347.4 L417.9 344.4 L418.0 344.2 L418.2 343.1 L418.5 341.7 L418.8 342.6 L419.0 340.8 L419.1 340.3 L419.4 339.5 L419.7 338.8 L420.0 340.6 L420.2 339.1 L420.3 340.0 L420.6 344.0 L420.9 344.1 L421.0 345.9 L421.2 346.9 L421.5 350.4 L421.8 353.9 L422.0 356.0 L422.1 356.2 L422.4 355.6 L422.7 358.4 L423.0 361.8 L423.0 359.4 L423.3 358.6 L423.6 356.5 L423.9 353.8 L424.1 354.3 L424.2 356.8 L424.5 358.1 L424.8 361.2 L425.1 365.6 L425.1 366.1 L425.4 365.1 L425.7 361.9 L426.0 361.4 L426.1 359.4 L426.3 359.9 L426.6 356.0 L426.9 355.3 L427.2 352.7 L427.4 351.8 L427.5 353.7 L427.8 356.2 L428.1 359.5 L428.4 362.4 L428.4 362.8 L428.7 365.9 L429.0 369.9 L429.3 374.5 L429.5 374.6 L429.6 374.0 L429.9 375.2 L430.2 378.2 L430.5 382.9 L430.5 381.3 L430.8 382.0 L431.1 377.8 L431.4 377.2 L431.5 376.3 L431.7 379.8 L432.0 382.6 L432.3 385.5 L432.5 386.4 L432.6 386.9 L432.9 389.4 L433.2 389.0 L433.5 392.6 L433.8 392.1 L433.8 395.0 L434.1 394.8 L434.4 393.4 L434.5 395.1 L434.7 396.4 L435.0 395.8 L435.3 394.5 L435.6 395.3 L435.9 392.3 L435.9 393.4 L436.2 393.5 L436.5 392.4 L436.8 392.6 L437.0 391.8 L437.1 392.3 L437.4 394.4 L437.7 396.2 L438.0 397.0 L438.2 398.5 L438.3 399.3 L438.6 397.2 L438.9 396.7 L439.2 395.1 L439.5 395.1 L439.6 393.4 L439.8 392.0 L440.1 393.8 L440.4 393.8 L440.7 393.0 L440.9 391.8 L441.0 390.5 L441.3 394.6 L441.6 397.7 L441.9 395.9 L441.9 398.5 L442.2 403.1 L442.5 401.6 L442.8 403.3 L443.0 406.9 L443.1 408.4 L443.4 406.6 L443.7 411.9 L444.0 412.7 L444.3 417.8 L444.3 415.4 L444.6 416.6 L444.9 420.8 L445.2 421.0 L445.3 425.5 L445.5 424.9 L445.8 425.5 L446.1 422.7 L446.3 423.8 L446.4 423.2 L446.7 427.1 L447.0 427.6 L447.3 428.9 L447.3 430.6 L447.6 428.0 L447.9 426.0 L448.2 427.7 L448.4 425.5 L448.5 425.6 L448.8 425.8 L449.1 425.9 L449.4 429.7 L449.4 428.9 L449.7 432.4 L450.0 433.3 L450.3 436.0 L450.4 437.3 L450.6 439.4 L450.9 438.1 L451.2 439.4 L451.4 440.7 L451.5 440.0 L451.8 439.1 L452.1 436.4 L452.4 436.7 L452.4 434.8 L452.7 435.8 L453.0 434.7 L453.3 434.6 L453.4 435.6 L453.6 437.6 L453.9 439.8 L454.2 441.3 L454.4 444.1 L454.5 444.6 L454.8 441.3 L455.1 440.7 L455.4 441.4 L455.4 439.9 L455.7 440.6 L456.0 441.7 L456.3 442.1 L456.5 442.4 L456.6 442.9 L456.9 445.6 L457.2 448.6 L457.5 451.8 L457.5 450.8 L457.8 451.9 L458.1 455.4 L458.1 455.0 L458.4 453.5 L458.7 452.1 L459.0 449.9 L459.2 449.1 L459.3 449.7 L459.6 447.6 L459.9 445.2 L460.2 445.1 L460.2 444.1 L460.5 443.2 L460.8 441.8 L461.1 440.2 L461.2 439.9 L461.4 440.4 L461.7 442.7 L462.0 442.1 L462.2 444.1 L462.3 443.1 L462.6 446.4 L462.9 446.8 L463.2 448.1 L463.2 449.1 L463.5 446.9 L463.8 444.7 L464.1 443.3 L464.2 442.4 L464.4 441.7 L464.7 439.6 L465.0 435.7 L465.2 433.9 L465.3 432.5 L465.6 435.0 L465.9 436.5 L466.2 439.7 L466.2 440.7 L466.5 438.6 L466.8 441.0 L467.1 439.9 L467.4 440.2 L467.6 439.0 L467.7 440.0 L468.0 438.8 L468.3 435.9 L468.6 434.0 L468.9 433.8 L468.9 433.9 L469.2 434.8 L469.5 433.9 L469.8 431.9 L470.1 429.9 L470.3 429.7 L470.4 430.0 L470.7 428.3 L471.0 427.3 L471.3 426.6 L471.6 426.3 L471.6 428.0 L471.9 429.5 L472.2 428.0 L472.5 427.2 L472.8 428.4 L473.0 427.2 L473.1 427.2 L473.4 424.0 L473.7 424.7 L474.0 422.2 L474.0 422.1 L474.3 423.1 L474.6 424.7 L474.9 423.2 L475.0 424.7 L475.2 424.5 L475.5 420.2 L475.8 417.3 L475.9 417.1 L476.1 417.7 L476.4 420.7 L476.7 421.0 L477.0 421.9 L477.0 423.8 L477.3 425.1 L477.6 425.5 L477.9 426.8 L478.2 427.6 L478.4 427.2 L478.5 429.0 L478.8 427.2 L479.1 429.2 L479.4 428.7 L479.4 428.9 L479.7 430.1 L480.0 430.7 L480.3 433.9 L480.4 433.9 L480.6 433.2 L480.9 430.1 L481.2 426.7 L481.4 425.5 L481.5 425.0 L481.8 424.7 L482.1 424.9 L482.4 425.1 L482.4 423.8 L482.7 425.3 L483.0 427.8 L483.3 429.6 L483.5 433.9 L483.6 434.9 L483.9 429.5 L484.2 429.4 L484.5 426.4 L484.5 425.5 L484.8 422.3 L485.1 418.9 L485.4 415.3 L485.5 415.4 L485.7 413.6 L486.0 416.2 L486.3 416.9 L486.5 413.7 L486.6 414.9 L486.9 414.7 L487.2 419.5 L487.5 420.6 L487.5 420.4 L487.8 420.0 L488.1 416.1 L488.4 414.0 L488.5 412.0 L488.7 410.9 L489.0 409.8 L489.3 408.2 L489.5 408.6 L489.6 410.0 L489.9 405.5 L490.2 400.6 L490.2 401.9 L490.5 406.6 L490.8 408.1 L491.1 410.2 L491.2 413.7 L491.4 410.5 L491.7 407.4 L492.0 406.8 L492.2 403.6 L492.3 402.7 L492.6 404.8 L492.9 403.7 L493.2 401.6 L493.2 401.0 L493.5 399.0 L493.8 399.6 L494.1 398.2 L494.3 395.1 L494.4 392.2 L494.6 384.7 L494.7 385.4 L495.0 384.2 L495.3 379.7 L495.6 378.7 L495.6 378.0 L495.9 375.6 L496.2 376.3 L496.5 374.5 L496.8 372.9 L497.0 374.6 L497.1 376.0 L497.4 373.3 L497.7 371.8 L498.0 371.5 L498.0 369.5 L498.3 369.2 L498.6 365.2 L498.9 362.5 L499.0 362.8 L499.2 363.3 L499.5 366.2 L499.8 367.4 L500.1 368.2 L500.3 366.1 L500.4 365.5 L500.7 363.8 L501.0 358.5 L501.3 357.8 L501.6 357.2 L501.7 354.3 L501.9 350.8 L502.2 347.8 L502.5 345.9 L502.8 342.3 L502.9 342.5 L503.1 341.0 L503.4 340.7 L503.7 341.2 L504.0 340.1 L504.1 340.8 L504.3 344.1 L504.6 344.1 L504.9 346.9 L505.1 350.9 L505.2 350.5 L505.5 355.4 L505.8 357.4 L506.1 357.1 L506.2 359.4 L506.4 358.0 L506.7 360.9 L507.0 360.3 L507.1 361.1 L507.3 361.2 L507.6 358.5 L507.9 357.2 L508.2 354.3 L508.4 354.3 L508.5 356.0 L508.8 354.2 L509.1 351.2 L509.4 348.3 L509.5 345.9 L509.7 344.6 L510.0 341.7 L510.3 340.7 L510.5 342.5 L510.6 341.9 L510.9 339.9 L511.2 335.4 L511.5 333.2 L511.5 333.2 L511.8 333.7 L512.1 335.2 L512.4 333.7 L512.5 335.8 L512.7 335.9 L513.0 340.2 L513.3 346.1 L513.5 349.3 L513.6 349.1 L513.9 353.8 L514.2 352.6 L514.5 356.3 L514.5 354.3 L514.8 353.6 L515.1 354.1 L515.4 360.6 L515.5 359.4 L515.7 360.0 L516.0 360.2 L516.3 365.2 L516.6 367.5 L516.9 367.9 L516.9 369.5 L517.2 373.9 L517.5 375.8 L517.8 375.8 L518.1 376.7 L518.2 379.6 L518.4 378.9 L518.7 383.1 L519.0 381.6 L519.2 383.0 L519.3 383.4 L519.6 383.4 L519.7 385.0 L519.9 384.9 L520.2 385.3 L520.5 384.8 L520.7 383.1 L520.8 382.6 L521.1 380.4 L521.4 379.4 L521.7 377.5 L522.0 376.1 L522.1 374.7 L522.3 372.9 L522.6 373.2 L522.9 372.6 L523.1 370.5 L523.2 370.3 L523.5 373.6 L523.8 376.6 L524.1 380.6 L524.1 379.8 L524.4 378.9 L524.7 378.9 L525.0 380.3 L525.3 382.6 L525.4 381.5 L525.6 379.6 L525.9 376.5 L526.2 376.3 L526.5 370.3 L526.8 370.9 L526.8 369.6 L527.1 367.8 L527.4 365.7 L527.7 365.1 L527.8 362.9 L528.0 361.9 L528.3 361.4 L528.6 359.5 L528.8 359.5 L528.9 361.0 L529.2 364.7 L529.5 368.5 L529.8 371.0 L529.8 373.0 L530.1 371.4 L530.4 369.5 L530.7 367.6 L530.8 366.3 L531.0 368.3 L531.3 365.3 L531.6 367.7 L531.9 368.4 L532.2 367.6 L532.2 368.0 L532.5 368.2 L532.8 368.6 L533.1 372.2 L533.4 371.5 L533.5 373.0 L533.7 372.9 L534.0 373.0 L534.3 373.9 L534.6 377.9 L534.9 377.0 L534.9 376.4 L535.2 379.1 L535.5 379.4 L535.8 382.0 L536.1 384.1 L536.2 384.0 L536.4 382.8 L536.7 386.5 L537.0 382.7 L537.3 385.4 L537.3 385.0 L537.6 379.0 L537.9 375.5 L538.1 369.6 L538.2 368.1 L538.5 367.3 L538.8 365.0 L539.1 359.3 L539.3 359.5 L539.4 359.7 L539.7 357.9 L540.0 355.4 L540.3 353.2 L540.3 354.5 L540.6 357.2 L540.9 363.3 L541.2 367.2 L541.3 369.6 L541.5 369.9 L541.8 365.9 L542.1 365.8 L542.3 362.9 L542.4 361.8 L542.7 363.7 L543.0 364.3 L543.3 369.5 L543.3 368.0 L543.6 366.2 L543.9 358.1 L544.2 352.0 L544.3 349.4 L544.5 351.0 L544.8 347.7 L545.1 345.1 L545.4 346.4 L545.4 346.0 L545.7 342.9 L546.0 340.6 L546.3 336.9 L546.4 334.2 L546.6 336.1 L546.9 332.4 L547.2 334.2 L547.4 332.5 L547.5 333.0 L547.8 337.9 L548.1 341.4 L548.4 345.3 L548.4 346.0 L548.7 343.3 L549.0 342.5 L549.3 342.1 L549.4 340.9 L549.6 340.3 L549.9 344.0 L550.2 346.2 L550.4 349.4 L550.5 349.3 L550.8 346.5 L551.1 345.6 L551.4 342.9 L551.4 342.6 L551.7 344.0 L552.0 350.0 L552.3 352.8 L552.4 354.5 L552.6 353.9 L552.9 351.4 L553.2 346.3 L553.5 343.4 L553.5 344.3 L553.8 344.1 L554.1 345.7 L554.4 348.0 L554.5 347.7 L554.7 345.6 L555.0 347.1 L555.3 343.7 L555.5 342.6 L555.6 344.2 L555.9 341.9 L556.2 340.7 L556.5 338.8 L556.5 339.3 L556.8 341.2 L557.1 341.8 L557.4 345.0 L557.5 344.3 L557.7 340.1 L558.0 332.9 L558.3 327.2 L558.5 320.7 L558.6 320.3 L558.9 324.2 L559.2 329.7 L559.2 329.1 L559.5 344.2 L559.8 359.5 L559.9 367.1 L560.1 361.2 L560.4 352.2 L560.5 346.0 L560.7 344.9 L561.0 342.7 L561.3 340.3 L561.6 338.3 L561.6 339.3 L561.9 334.9 L562.2 333.7 L562.5 330.4 L562.6 327.4 L562.8 330.5 L563.1 328.8 L563.4 327.8 L563.6 329.1 L563.7 330.1 L564.0 336.1 L564.3 339.7 L564.6 345.5 L564.6 344.3 L564.9 340.3 L565.2 336.7 L565.5 338.6 L565.6 334.2 L565.8 336.7 L566.1 344.6 L566.4 348.1 L566.6 352.8 L566.7 351.9 L567.0 356.7 L567.3 357.8 L567.6 358.4 L567.6 361.2 L567.9 363.4 L568.2 365.5 L568.5 365.3 L568.8 365.0 L569.0 364.6 L569.1 366.5 L569.4 367.4 L569.7 365.1 L570.0 369.5 L570.3 368.1 L570.3 369.6 L570.6 370.1 L570.9 373.3 L571.2 374.2 L571.4 376.4 L571.5 376.1 L571.8 374.0 L572.1 370.1 L572.4 365.4 L572.4 366.3 L572.7 364.8 L573.0 364.9 L573.3 363.6 L573.4 362.9 L573.6 361.8 L573.9 359.3 L574.2 357.1 L574.4 357.0 L574.5 357.2 L574.8 361.1 L575.1 364.6 L575.4 370.0 L575.4 369.6 L575.7 367.6 L576.0 366.9 L576.3 366.9 L576.4 366.3 L576.6 365.2 L576.9 363.2 L577.2 360.2 L577.4 359.5 L577.5 359.2 L577.8 357.7 L578.1 355.4 L578.4 352.4 L578.4 351.1 L578.7 351.4 L579.0 353.2 L579.3 353.5 L579.5 354.5 L579.6 355.2 L579.9 358.8 L580.2 360.3 L580.5 363.3 L580.5 362.9 L580.8 365.4 L581.1 368.8 L581.4 371.3 L581.5 372.2 L581.7 366.6 L582.0 363.1 L582.3 361.2 L582.5 356.1 L582.6 355.3 L582.9 352.5 L583.2 344.2 L583.5 339.0 L583.5 340.9 L583.8 338.7 L584.1 334.2 L584.4 330.3 L584.5 327.4 L584.7 328.5 L585.0 325.0 L585.3 326.4 L585.5 324.1 L585.6 325.7 L585.9 329.8 L586.2 333.4 L586.5 335.6 L586.5 337.6 L586.8 341.2 L587.1 345.0 L587.4 348.7 L587.6 349.4 L587.7 349.4 L588.0 344.0 L588.3 336.2 L588.6 330.7 L588.6 332.5 L588.9 329.4 L589.2 328.1 L589.5 322.3 L589.6 320.7 L589.8 318.8 L590.1 316.4 L590.4 309.4 L590.6 308.9 L590.7 308.3 L591.0 306.1 L591.3 304.2 L591.6 302.5 L591.6 303.8 L591.9 308.6 L592.2 312.8 L592.5 314.7 L592.6 315.6 L592.8 315.0 L593.1 309.9 L593.4 305.4 L593.6 302.1 L593.7 303.6 L594.0 297.9 L594.3 293.8 L594.3 295.4 L594.6 300.0 L594.9 306.9 L595.2 309.3 L595.3 312.3 L595.5 309.6 L595.8 304.8 L596.1 298.3 L596.3 293.7 L596.4 294.0 L596.7 289.4 L597.0 285.3 L597.3 285.0 L597.3 283.6 L597.6 294.4 L597.9 307.9 L598.0 313.9 L598.2 316.5 L598.5 317.9 L598.8 326.2 L599.0 329.1 L599.1 327.7 L599.4 328.5 L599.7 333.0 L600.0 337.0 L600.0 335.9 L600.3 338.6 L600.6 343.8 L600.9 350.6 L601.1 352.8 L601.2 355.7 L601.5 364.8 L601.7 373.0 L601.8 376.0 L602.1 377.8 L602.4 384.8 L602.4 385.0 L602.7 384.7 L603.0 390.6 L603.2 390.4 L603.3 391.5 L603.6 400.0 L603.8 404.8 L603.9 405.3 L604.2 405.4 L604.5 399.3 L604.8 397.7 L604.9 398.9 L605.1 399.9 L605.4 397.2 L605.7 397.0 L605.9 395.5 L606.0 395.1 L606.3 392.6 L606.6 393.2 L606.9 390.9 L606.9 391.3 L607.2 392.8 L607.5 395.4 L607.8 397.2 L607.9 397.2 L608.1 397.2 L608.4 393.2 L608.6 390.4 L608.7 390.6 L609.0 400.5 L609.2 405.6 L609.3 403.6 L609.6 417.2 L609.9 426.8 L609.9 425.9 L610.2 433.6 L610.5 438.9 L610.6 442.8 L610.8 441.8 L611.1 444.3 L611.4 438.6 L611.6 441.1 L611.7 444.2 L612.0 444.9 L612.3 450.0 L612.6 454.1 L612.6 456.3 L612.9 458.8 L613.2 464.7 L613.5 470.4 L613.6 469.8 L613.8 472.5 L614.0 478.8 L614.1 477.0 L614.4 477.0 L614.7 478.5 L615.0 478.6 L615.3 478.0 L615.3 477.1 L615.6 476.2 L615.9 474.8 L616.2 472.8 L616.5 471.4 L616.7 469.5 L616.8 470.0 L617.1 471.6 L617.4 471.9 L617.7 473.1 L618.0 472.6 L618.0 473.7 L618.3 475.0 L618.6 475.9 L618.9 476.1 L619.2 476.4 L619.4 477.9 L619.5 476.9 L619.8 476.8 L620.1 477.0 L620.4 476.1 L620.7 475.6 L620.7 475.4 L621.0 476.0 L621.3 475.3 L621.6 474.1 L621.9 471.3 L622.1 472.8 L622.2 470.9 L622.5 472.6 L622.8 470.1 L623.1 471.4 L623.4 470.8 L623.4 470.3 L623.7 470.6 L624.0 470.3 L624.3 466.8 L624.6 465.0 L624.8 465.3 L624.9 467.3 L625.2 462.3 L625.5 460.2 L625.8 458.8 L625.8 458.5 L626.1 456.7 L626.4 452.4 L626.7 450.7 L626.8 450.1 L627.0 449.0 L627.3 454.4 L627.6 457.5 L627.8 456.8 L627.9 460.3 L628.2 464.3 L628.5 469.1 L628.5 470.3 L628.8 476.4 L629.1 477.8 L629.4 481.7 L629.5 485.5 L629.7 483.9 L630.0 483.2 L630.3 483.8 L630.6 488.5 L630.8 486.4 L630.9 486.0 L631.2 483.9 L631.5 484.6 L631.8 483.6 L632.1 482.2 L632.2 483.0 L632.4 482.5 L632.7 484.7 L633.0 484.7 L633.2 485.5 L633.3 486.0 L633.6 482.1 L633.9 480.3 L634.2 479.4 L634.2 477.9 L634.5 480.2 L634.8 483.5 L635.1 486.4 L635.2 487.2 L635.4 487.5 L635.7 488.2 L636.0 489.0 L636.2 488.0 L636.3 487.4 L636.6 488.0 L636.9 487.2 L637.2 482.3 L637.3 483.8 L637.5 481.7 L637.8 480.1 L638.1 479.0 L638.3 476.2 L638.4 477.2 L638.7 482.2 L639.0 484.5 L639.3 489.9 L639.3 492.3 L639.6 493.3 L639.9 495.9 L640.2 500.8 L640.3 499.0 L640.5 498.6 L640.8 502.7 L641.1 500.2 L641.4 504.5 L641.5 504.9 L641.7 505.8 L642.0 503.3 L642.3 502.3 L642.6 501.8 L642.7 502.4 L642.9 501.4 L643.2 500.1 L643.5 499.3 L643.7 497.3 L643.8 497.4 L644.1 500.1 L644.4 501.1 L644.7 503.6 L644.7 504.1 L645.0 502.8 L645.3 503.3 L645.6 501.6 L645.9 501.7 L646.0 500.7 L646.2 501.2 L646.5 501.5 L646.8 502.9 L647.1 502.7 L647.4 504.9 L647.4 504.1 L647.7 505.2 L648.0 504.4 L648.3 505.2 L648.6 506.4 L648.7 505.8 L648.9 506.2 L649.2 504.9 L649.5 503.3 L649.8 501.7 L650.1 499.7 L650.1 499.0 L650.4 497.0 L650.7 497.8 L651.0 494.3 L651.3 493.3 L651.4 493.1 L651.6 493.3 L651.9 493.8 L652.2 495.6 L652.4 497.3 L652.5 498.3 L652.8 498.2 L653.1 500.9 L653.4 503.1 L653.5 502.4 L653.7 501.7 L654.0 504.7 L654.3 505.9 L654.5 505.8 L654.6 506.5 L654.9 498.0 L655.2 496.5 L655.5 491.6 L655.5 490.6 L655.8 490.2 L656.1 487.7 L656.4 488.3 L656.7 486.2 L656.7 483.8 L657.0 481.5 L657.3 479.9 L657.6 477.0 L657.8 477.1 L657.9 479.4 L658.2 472.6 L658.5 473.6 L658.8 464.6 L658.9 466.4 L659.1 467.7 L659.4 461.0 L659.7 458.0 L660.0 454.4 L660.0 456.3 L660.3 458.6 L660.6 457.3 L660.9 459.1 L661.2 458.9 L661.2 459.6 L661.5 458.5 L661.8 452.5 L662.1 449.2 L662.2 444.5 L662.4 442.5 L662.7 442.7 L663.0 436.2 L663.2 436.0 L663.3 438.7 L663.6 430.9 L663.9 431.5 L664.2 427.0 L664.3 427.6 L664.5 427.3 L664.8 430.1 L665.1 428.8 L665.3 432.6 L665.4 430.7 L665.7 426.2 L666.0 425.3 L666.3 421.6 L666.3 419.1 L666.6 416.3 L666.9 413.5 L667.2 408.6 L667.3 407.3 L667.5 406.3 L667.8 412.4 L668.1 411.7 L668.3 414.1 L668.4 413.3 L668.7 414.7 L669.0 412.7 L669.3 406.8 L669.3 407.3 L669.6 405.1 L669.9 399.2 L670.0 394.7 L670.2 394.2 L670.5 397.0 L670.8 400.4 L671.0 398.9 L671.1 397.5 L671.4 391.2 L671.7 384.9 L672.0 381.0 L672.0 376.9 L672.3 376.5 L672.6 379.2 L672.9 384.3 L673.0 385.4 L673.2 386.7 L673.5 380.4 L673.8 374.5 L674.1 372.0 L674.1 370.2 L674.4 367.6 L674.7 368.9 L675.0 368.6 L675.3 365.3 L675.4 366.8 L675.6 364.5 L675.9 362.8 L676.2 362.5 L676.4 360.1 L676.5 362.1 L676.8 360.6 L677.1 366.4 L677.4 368.4 L677.4 368.5 L677.7 366.3 L678.0 357.8 L678.1 355.0 L678.3 359.2 L678.6 363.1 L678.7 366.3 L678.9 361.8 L679.2 359.6 L679.5 354.3 L679.7 347.7 L679.8 350.4 L680.1 346.3 L680.4 346.3 L680.7 352.0 L680.8 349.4 L681.0 345.6 L681.3 341.9 L681.6 336.3 L681.8 335.9 L681.9 333.9 L682.2 329.7 L682.5 326.3 L682.8 324.0 L682.8 323.2 L683.1 323.7 L683.4 326.6 L683.7 331.3 L683.8 332.5 L684.0 332.2 L684.3 328.6 L684.6 324.6 L684.8 322.4 L684.9 321.8 L685.2 327.2 L685.5 330.5 L685.8 332.1 L685.8 332.5 L686.1 334.3 L686.4 335.9 L686.7 339.6 L686.8 340.1 L687.0 339.4 L687.3 339.6 L687.6 339.9 L687.8 339.3 L687.9 340.1 L688.2 336.4 L688.5 336.7 L688.8 334.7 L688.9 332.5 L689.1 330.1 L689.4 330.3 L689.7 332.4 L689.9 329.1 L690.0 329.7 L690.3 325.8 L690.6 328.7 L690.9 324.4 L690.9 324.1 L691.2 322.0 L691.5 317.9 L691.8 316.1 L691.9 317.3 L692.1 316.1 L692.4 314.4 L692.7 314.3 L692.9 310.6 L693.0 308.2 L693.3 311.9 L693.6 310.6 L693.9 314.8 L693.9 313.1 L694.2 311.5 L694.5 310.5 L694.8 306.6 L694.9 305.5 L695.1 305.4 L695.4 302.1 L695.7 300.6 L695.9 300.4 L696.0 299.3 L696.3 302.3 L696.6 303.9 L696.9 306.2 L697.0 307.2 L697.2 304.6 L697.5 297.4 L697.6 295.4 L697.8 297.4 L698.1 299.7 L698.4 300.9 L698.6 303.8 L698.7 304.6 L699.0 305.6 L699.3 310.3 L699.6 311.7 L699.7 313.9 L699.9 311.5 L700.2 309.6 L700.5 305.0 L700.7 302.1 L700.8 301.2 L701.1 297.7 L701.4 296.0 L701.7 295.7 L701.7 294.5 L702.0 296.1 L702.3 299.9 L702.6 303.5 L702.7 303.8 L702.9 304.0 L703.2 308.1 L703.5 311.9 L703.7 314.8 L703.8 313.0 L704.1 315.8 L704.4 313.8 L704.7 312.0 L704.7 308.9 L705.0 309.1 L705.3 315.3 L705.6 316.1 L705.7 317.3 L705.9 319.6 L706.2 327.2 L706.4 332.5 L706.5 334.1 L706.8 347.5 L706.9 352.8 L707.1 344.9 L707.4 337.9 L707.7 323.2 L707.8 320.7 L708.0 321.2 L708.3 320.9 L708.6 320.7 L708.8 317.3 L708.9 319.2 L709.1 335.9 L709.2 356.4 L709.2 358.4 L709.5 396.6 L709.5 403.9 L709.8 392.0 L710.1 373.3 L710.2 370.2 L710.4 367.2 L710.7 362.2 L710.8 356.7 L711.0 360.0 L711.3 358.5 L711.5 363.4 L711.6 361.1 L711.9 364.0 L712.2 369.1 L712.5 371.7 L712.5 371.9 L712.8 371.3 L713.1 369.1 L713.4 365.8 L713.5 365.1 L713.7 369.0 L714.0 376.5 L714.3 386.7 L714.6 396.4 L714.6 398.9 L714.9 392.6 L715.2 378.1 L715.2 378.6 L715.5 371.0 L715.8 363.6 L715.9 358.4 L716.1 361.2 L716.4 370.0 L716.6 375.3 L716.7 387.6 L716.9 432.6 L717.0 434.3 L717.3 434.3 L717.6 433.1 L717.9 433.6 L717.9 436.0 L718.2 439.9 L718.5 447.3 L718.8 453.4 L718.9 456.3 L719.1 452.6 L719.1 448.4 L719.3 518.4 L719.4 509.3 L719.7 466.5 L719.8 448.4 L720.0 450.0 L720.3 447.4 L720.6 448.2 L720.9 447.6 L721.2 447.3 L721.3 446.7 L721.3 449.5 L721.5 448.1 L721.8 445.3 L722.0 439.4 L722.1 442.6 L722.4 446.8 L722.7 450.9 L722.7 450.1 L723.0 445.9 L723.0 442.8 L723.3 445.4 L723.6 444.0 L723.7 445.0 L723.7 464.7 L723.9 460.6 L724.2 453.9 L724.3 449.5 L724.5 450.6 L724.7 455.1 L724.8 452.5 L725.0 442.8 L725.1 445.0 L725.4 475.0 L725.4 473.7 L725.7 464.9 L726.0 452.4 L726.0 448.4 L726.0 473.1 L726.3 462.4 L726.6 451.4 L726.7 442.8 L726.9 443.9 L727.0 445.0 L727.2 445.7 L727.5 444.1 L727.7 446.1 L727.7 478.8 L727.8 483.4 L728.1 514.8 L728.4 547.3 L728.4 552.2 L728.7 526.2 L729.0 498.1 L729.1 483.8 L729.3 491.8 L729.6 504.6 L729.7 512.5 L729.9 517.6 L730.2 528.7 L730.4 539.5 L730.5 541.2 L730.8 542.6 L731.1 546.1 L731.4 549.1 L731.4 549.6 L731.7 548.2 L732.0 546.3 L732.3 545.2 L732.6 543.4 L732.6 542.9 L732.9 539.0 L733.2 536.8 L733.5 533.7 L733.5 532.8 L733.8 530.6 L734.1 527.4 L734.4 526.6 L734.5 526.0 L734.7 527.0 L735.0 529.0 L735.3 531.0 L735.5 532.8 L735.6 533.2 L735.9 535.3 L736.2 537.7 L736.5 542.8 L736.5 542.9 L736.8 541.7 L737.1 540.9 L737.4 538.5 L737.5 539.5 L737.7 539.6 L738.0 542.4 L738.3 544.4 L738.5 546.3 L738.6 546.2 L738.9 545.0 L739.2 544.0 L739.5 542.3 L739.8 541.7 L739.9 541.2 L740.1 540.2 L740.4 541.0 L740.7 539.4 L741.0 539.1 L741.2 539.5 L741.3 539.1 L741.6 540.3 L741.9 540.3 L742.2 541.6 L742.5 542.2 L742.6 542.0 L742.8 542.5 L743.1 543.4 L743.4 543.2 L743.7 543.9 L743.9 544.6 L744.0 544.4 L744.3 545.8 L744.6 545.8 L744.9 546.8 L745.2 547.2 L745.3 548.0 L745.5 548.6 L745.8 548.6 L746.1 548.6 L746.4 549.6 L746.7 549.9 L747.0 550.1 L747.0 550.0 L747.3 550.0 L747.6 549.9 L747.9 550.0 L748.2 549.3 L748.5 549.6 L748.6 549.6 L748.8 549.2 L749.1 549.1 L749.4 548.4 L749.7 547.9 L750.0 546.7 L750.3 546.9 L750.3 546.3 L750.6 545.9 L750.9 544.8 L751.2 544.8 L751.5 544.0 L751.8 543.4 L752.0 542.9 L752.1 542.8 L752.4 543.0 L752.7 542.3 L753.0 542.1 L753.3 542.2 L753.6 541.8 L753.7 541.2 L753.9 541.3 L754.2 542.3 L754.5 542.7 L754.8 543.0 L755.1 544.2 L755.4 544.9 L755.4 544.6 L755.7 543.9 L756.0 543.2 L756.3 542.4 L756.6 540.8 L756.9 539.1 L757.1 539.5 L757.2 538.8 L757.5 540.1 L757.8 540.2 L758.1 537.9 L758.4 538.9 L758.7 538.4 L758.8 538.7 L759.0 537.8 L759.3 537.7 L759.6 538.2 L759.9 538.3 L760.2 538.4 L760.5 538.5 L760.5 537.8 L760.8 537.4 L761.1 537.7 L761.4 537.9 L761.7 538.5 L762.0 538.2 L762.2 537.5 L762.3 538.4 L762.6 538.1 L762.9 538.1 L763.2 538.1 L763.5 538.9 L763.8 540.7 L763.8 539.5 L764.1 540.3 L764.4 539.1 L764.7 540.1 L765.0 539.4 L765.3 539.6 L765.5 540.4 L765.6 539.3 L765.9 541.5 L766.2 541.2 L766.5 541.5 L766.8 542.0 L767.1 542.2 L767.2 542.9 L767.4 543.2 L767.7 543.1 L768.0 543.7 L768.3 543.8 L768.6 543.8 L768.9 543.6 L768.9 543.7 L769.2 544.3 L769.5 545.6 L769.8 545.5 L769.9 546.3 L770.1 546.8 L770.4 547.5 L770.7 547.6 L771.0 548.4 L771.3 548.6 L771.6 549.6 L771.9 549.7 L772.1 550.5 L772.2 550.9 L772.5 549.8 L772.8 550.0 L773.1 550.0 L773.4 550.1 L773.7 549.6 L773.8 549.6 L774.0 549.0 L774.3 548.8 L774.6 547.8 L774.9 546.9 L775.2 546.2 L775.5 545.4 L775.8 544.4 L775.8 544.6 L776.1 547.4 L776.4 550.0 L776.5 551.3 L776.7 551.3 L777.0 551.6 L777.3 551.8 L777.6 552.0 L777.9 552.1 L778.0 552.2 L778.2 552.2 L778.5 552.2 L778.8 552.2 L779.1 552.2 L779.4 552.2 L779.7 552.2 L780.0 552.2 L780.3 552.2 L780.6 552.2 L780.9 552.2 L781.2 552.2 L781.5 552.2 L781.8 552.2 L782.1 552.2 L782.4 552.2 L782.7 552.2 L783.0 552.2 L783.0 552.2 L783.3 551.7 L783.6 551.1 L783.9 550.6 L784.2 550.1 L784.2 549.6 L784.5 547.0 L784.8 543.7 L785.1 539.6 L785.2 538.7 L785.4 539.1 L785.7 542.4 L786.0 541.8 L786.3 543.4 L786.4 543.7 L786.6 543.3 L786.9 543.0 L787.2 542.8 L787.5 541.9 L787.8 542.1 L788.1 541.4 L788.1 541.2 L788.4 541.3 L788.7 539.7 L789.0 541.7 L789.3 538.7 L789.6 538.3 L789.8 539.5 L789.9 538.1 L790.2 539.1 L790.5 538.6 L790.8 539.5 L791.1 537.6 L791.4 537.1 L791.5 537.5 L791.7 537.7 L792.0 537.1 L792.3 537.2 L792.6 536.9 L792.9 536.8 L793.2 536.4 L793.2 536.1 L793.5 535.6 L793.8 536.6 L794.1 537.0 L794.4 537.9 L794.7 538.6 L794.9 538.2 L795.0 538.8 L795.3 539.0 L795.6 539.2 L795.9 538.1 L796.2 540.2 L796.5 536.9 L796.5 538.7 L796.8 539.9 L797.1 539.0 L797.4 538.7 L797.7 539.7 L798.0 538.7 L798.2 539.5 L798.3 540.7 L798.6 543.2 L798.9 545.5 L799.2 548.3 L799.4 551.3 L799.5 550.9 L799.8 549.6 L800.1 547.8 L800.4 546.6 L800.4 546.3 L800.7 545.3 L801.0 544.7 L801.3 543.5 L801.6 542.1 L801.6 542.0 L801.9 540.8 L802.2 539.8 L802.5 540.0 L802.8 537.1 L802.8 537.8 L803.1 538.6 L803.4 541.4 L803.7 543.2 L803.8 544.6 L804.0 545.1 L804.3 546.0 L804.6 547.1 L804.9 547.2 L805.0 548.0 L805.2 548.4 L805.5 548.3 L805.8 548.6 L806.1 548.7 L806.4 548.4 L806.7 549.0 L806.7 548.8 L807.0 548.6 L807.3 549.3 L807.6 549.6 L807.9 550.1 L808.2 550.5 L808.4 550.5 L808.5 550.6 L808.8 550.7 L809.1 550.8 L809.4 551.9 L809.7 551.8 L810.0 552.1 L810.0 552.2 L810.3 552.2 L810.6 552.2 L810.9 552.2 L811.2 552.2 L811.5 552.2 L811.8 552.2 L812.1 552.2 L812.2 552.2 L812.4 551.6 L812.7 548.8 L813.0 547.3 L813.2 544.6 L813.3 544.8 L813.6 545.9 L813.9 546.9 L814.2 547.4 L814.3 548.0 L814.5 547.8 L814.8 547.6 L815.1 547.4 L815.4 546.5 L815.6 546.3 L815.7 546.6 L816.0 546.6 L816.3 547.3 L816.6 548.2 L816.9 548.7 L817.0 548.8 L817.2 548.3 L817.5 547.7 L817.8 547.0 L818.1 546.3 L818.3 546.3 L818.4 545.3 L818.7 536.0 L819.0 528.5 L819.2 522.6 L819.3 523.4 L819.3 522.6 L819.6 530.2 L819.9 538.3 L820.2 546.9 L820.2 548.0 L820.5 548.0 L820.8 548.9 L821.1 549.2 L821.4 549.4 L821.7 549.3 L821.9 549.6 L822.0 550.1 L822.3 549.3 L822.6 550.0 L822.9 549.6 L823.2 550.1 L823.5 550.1 L823.8 550.1 L824.1 549.8 L824.4 550.3 L824.4 550.0 L824.7 550.2 L825.0 550.4 L825.3 550.0 L825.6 549.8 L825.9 550.3 L826.2 549.9 L826.5 550.4 L826.8 550.5 L827.1 550.2 L827.4 550.2 L827.7 550.2 L827.8 550.5 L828.0 550.1 L828.3 550.3 L828.6 550.9 L828.9 551.0 L829.2 550.7 L829.5 550.4 L829.8 550.8 L830.1 550.3 L830.4 550.6 L830.7 550.5 L831.0 550.0 L831.1 550.5 L831.3 550.7 L831.6 550.7 L831.9 549.9 L832.2 550.6 L832.5 549.9 L832.8 549.9 L833.1 549.5 L833.4 549.5 L833.7 549.4 L834.0 549.9 L834.3 549.7 L834.5 549.6 L834.6 549.1 L834.9 549.5 L835.2 548.9 L835.5 548.8 L835.8 549.1 L836.1 548.9 L836.4 548.3 L836.7 548.0 L837.0 548.3 L837.0 548.0 L837.3 547.8 L837.6 548.9 L837.9 548.6 L838.2 549.0 L838.5 549.5 L838.7 549.6 L838.8 550.1 L839.1 550.1 L839.4 550.3 L839.7 550.3 L840.0 550.4 L840.3 550.9 L840.4 551.3 L840.6 551.8 L840.9 551.6 L841.2 551.7 L841.5 551.9 L841.8 552.0 L842.1 552.2 L842.1 552.2 L842.4 551.7 L842.7 550.7 L843.0 550.2 L843.3 549.3 L843.3 549.6 L843.6 546.9 L843.9 543.5 L844.0 542.0 L844.2 542.4 L844.5 543.9 L844.8 545.4 L845.0 546.3 L845.1 546.5 L845.4 548.4 L845.7 550.0 L846.0 552.0 L846.0 552.2 L846.3 552.2 L846.6 552.2 L846.9 552.2 L847.2 552.2 L847.3 552.2 L847.5 550.8 L847.8 546.5 L848.0 542.9 L848.1 542.1 L848.4 536.5 L848.7 537.5 L848.9 532.8 L849.0 531.0 L849.3 528.5 L849.6 524.7 L849.7 526.0 L849.9 522.8 L850.2 522.8 L850.5 524.0 L850.5 524.3 L850.8 528.9 L851.1 533.9 L851.1 534.5 L851.4 524.6 L851.7 517.8 L851.7 515.9 L852.0 514.5 L852.3 512.2 L852.6 511.0 L852.7 509.1 L852.9 509.6 L853.2 510.2 L853.4 510.8 L853.5 512.3 L853.8 514.5 L854.1 517.8 L854.1 517.6 L854.4 523.4 L854.7 527.2 L854.8 529.4 L855.0 528.2 L855.3 523.9 L855.6 522.2 L855.8 519.3 L855.9 519.5 L856.2 525.0 L856.5 527.8 L856.5 528.5 L856.8 523.2 L857.1 518.0 L857.4 515.2 L857.5 512.5 L857.7 512.7 L858.0 509.0 L858.1 507.4 L858.3 508.4 L858.6 511.9 L858.9 514.2 L859.2 520.6 L859.2 519.3 L859.5 514.5 L859.8 506.6 L859.8 505.8 L860.1 510.3 L860.4 513.3 L860.7 514.0 L860.8 517.6 L861.0 516.5 L861.3 511.3 L861.6 506.4 L861.9 502.6 L861.9 503.2 L862.2 513.1 L862.5 527.2 L862.5 529.4 L862.8 523.6 L863.1 518.2 L863.2 515.9 L863.4 515.2 L863.7 514.2 L864.0 512.3 L864.2 512.5 L864.3 512.5 L864.6 507.0 L864.9 500.6 L864.9 499.9 L865.2 503.9 L865.5 503.7 L865.8 510.4 L865.9 510.8 L866.1 510.2 L866.4 509.2 L866.7 506.3 L866.9 504.1 L867.0 503.0 L867.3 506.9 L867.6 508.0 L867.9 511.0 L867.9 509.1 L868.2 510.7 L868.5 507.3 L868.8 507.7 L868.9 504.1 L869.1 501.9 L869.4 499.5 L869.6 500.7 L869.7 499.3 L870.0 491.8 L870.3 490.6 L870.3 487.2 L870.6 482.5 L870.9 484.0 L871.2 479.7 L871.3 477.1 L871.5 476.9 L871.8 475.6 L872.1 472.4 L872.3 468.6 L872.4 469.1 L872.7 463.9 L873.0 465.4 L873.3 462.5 L873.3 461.9 L873.6 458.3 L873.9 456.2 L874.2 457.3 L874.3 453.4 L874.5 451.9 L874.8 451.4 L875.1 447.4 L875.2 446.3 L875.4 443.9 L875.7 445.0 L876.0 450.1 L876.2 448.0 L876.3 448.7 L876.6 440.0 L876.9 432.7 L876.9 432.8 L877.2 435.8 L877.5 441.1 L877.8 446.2 L877.9 449.6 L878.1 449.2 L878.4 444.0 L878.7 441.5 L878.9 437.8 L879.0 437.5 L879.3 441.6 L879.6 446.3 L879.9 448.4 L880.0 451.3 L880.2 449.6 L880.5 448.3 L880.8 445.8 L881.0 446.3 L881.1 442.7 L881.4 442.3 L881.7 437.5 L882.0 439.3 L882.0 436.1 L882.3 431.6 L882.6 431.2 L882.9 427.6 L883.0 426.0 L883.2 425.3 L883.5 420.8 L883.8 420.0 L884.0 415.9 L884.1 417.4 L884.4 421.5 L884.7 425.8 L885.0 428.0 L885.0 431.1 L885.3 432.1 L885.6 433.5 L885.9 433.5 L886.0 432.8 L886.2 429.4 L886.5 427.2 L886.8 423.0 L887.0 420.9 L887.1 421.9 L887.4 420.3 L887.7 417.0 L888.0 411.1 L888.1 412.5 L888.3 411.3 L888.6 408.4 L888.9 408.6 L889.1 405.8 L889.2 407.7 L889.5 409.9 L889.8 408.6 L890.1 414.6 L890.1 413.4 L890.4 407.1 L890.7 404.1 L891.0 403.2 L891.1 399.0 L891.3 398.5 L891.6 399.9 L891.9 403.2 L892.1 402.4 L892.2 399.4 L892.5 398.5 L892.8 397.3 L893.1 396.4 L893.1 395.6 L893.4 394.4 L893.7 393.5 L894.0 392.1 L894.1 392.3 L894.3 393.0 L894.6 390.0 L894.9 384.5 L895.1 382.1 L895.2 382.0 L895.5 384.7 L895.8 388.2 L896.1 390.8 L896.2 392.3 L896.4 391.4 L896.7 390.8 L897.0 388.8 L897.2 385.5 L897.3 386.0 L897.6 389.5 L897.8 395.6 L897.9 394.1 L898.2 388.8 L898.5 388.0 L898.8 383.2 L898.9 380.4 L899.1 378.2 L899.4 376.1 L899.7 370.0 L899.9 370.3 L900.0 366.6 L900.3 363.6 L900.6 358.8 L900.9 358.4 L900.9 356.8 L901.2 357.1 L901.5 352.1 L901.8 352.1 L901.9 351.8 L902.1 354.3 L902.4 356.2 L902.7 354.5 L902.9 355.1 L903.0 355.3 L903.3 353.9 L903.6 351.4 L903.9 351.8 L903.9 350.1 L904.2 352.3 L904.5 348.5 L904.6 349.6 L904.8 345.8 L905.1 337.1 L905.4 325.7 L905.6 319.3 L905.7 322.4 L905.8 321.1 L906.0 324.7 L906.3 325.0 L906.3 327.2 L906.6 325.2 L906.6 326.0 L906.9 316.2 L906.9 313.7 L907.2 317.2 L907.4 324.0 L907.5 323.3 L907.6 312.5 L907.8 307.5 L908.0 305.2 L908.1 308.5 L908.4 314.8 L908.5 321.9 L908.6 299.0 L908.7 295.6 L909.0 296.1 L909.1 293.4 L909.3 300.2 L909.6 321.7 L909.6 322.6 L909.6 322.0 L909.9 307.6 L910.2 294.9 L910.2 289.7 L910.5 290.0 L910.6 293.9 L910.7 318.9 L910.8 319.9 L911.1 300.6 L911.3 281.3 L911.4 279.2 L911.6 261.9 L911.7 262.1 L912.0 257.0 L912.3 249.2 L912.3 249.2 L912.6 249.2 L912.9 249.2 L913.0 249.2 L913.2 255.2 L913.5 270.7 L913.7 285.5 L913.8 290.1 L914.1 303.5 L914.3 312.5 L914.4 313.0 L914.7 321.9 L915.0 336.2 L915.0 336.1 L915.3 341.0 L915.6 341.1 L915.9 342.1 L916.0 346.3 L916.2 343.6 L916.5 345.9 L916.8 344.8 L917.0 342.9 L917.1 340.9 L917.4 345.9 L917.7 350.1 L918.0 353.9 L918.1 353.0 L918.3 358.0 L918.6 359.4 L918.9 363.2 L919.1 365.0 L919.1 361.9 L919.2 359.0 L919.5 363.5 L919.8 362.1 L920.1 359.0 L920.1 358.5 L920.4 329.7 L920.4 320.9 L920.7 312.4 L921.0 298.6 L921.1 288.9 L921.2 445.0 L921.3 456.8 L921.6 523.7 L921.7 552.2 L921.9 552.2 L922.2 552.2 L922.4 552.2 L922.5 542.2 L922.8 511.4 L922.9 495.6 L923.1 500.5 L923.4 502.6 L923.7 506.6 L924.0 514.8 L924.2 519.3 L924.3 520.3 L924.6 518.1 L924.9 511.3 L925.2 512.0 L925.2 509.1 L925.5 505.8 L925.8 504.4 L926.1 500.5 L926.2 497.3 L926.4 500.0 L926.7 506.0 L926.9 512.5 L927.0 512.9 L927.3 507.9 L927.6 501.4 L927.6 502.4 L927.9 510.1 L928.2 517.8 L928.3 522.6 L928.5 520.9 L928.8 518.7 L929.1 515.0 L929.3 515.9 L929.4 513.8 L929.7 521.7 L930.0 523.0 L930.3 524.4 L930.3 526.0 L930.6 527.2 L930.9 525.1 L931.2 525.1 L931.3 522.6 L931.5 524.1 L931.8 524.6 L932.1 530.2 L932.3 532.8 L932.4 532.9 L932.7 531.2 L933.0 529.9 L933.3 528.4 L933.3 529.4 L933.6 533.6 L933.9 534.2 L934.2 534.8 L934.3 537.8 L934.5 535.8 L934.8 534.9 L935.1 531.1 L935.4 530.3 L935.4 531.1 L935.7 536.5 L936.0 535.1 L936.3 541.4 L936.4 542.9 L936.6 543.1 L936.9 544.2 L937.2 545.7 L937.4 546.3 L937.5 546.3 L937.8 547.7 L938.1 549.3 L938.4 550.2 L938.4 550.5 L938.7 550.6 L939.0 551.7 L939.3 551.9 L939.4 552.2 L939.6 552.2 L939.9 552.2 L940.2 552.2 L940.5 552.2 L940.8 552.2 L941.1 552.2 L941.4 552.2 L941.6 552.2 L941.7 552.1 L942.0 551.8 L942.3 550.7 L942.6 550.5 L942.8 549.6 L942.9 549.5 L943.2 547.5 L943.5 546.2 L943.8 544.5 L943.8 544.6 L944.1 545.1 L944.4 545.1 L944.7 545.6 L944.8 546.3 L945.0 546.0 L945.3 544.3 L945.6 542.6 L945.8 541.2 L945.9 541.4 L946.2 543.8 L946.5 545.3 L946.8 547.8 L946.8 548.0 L947.1 548.0 L947.4 547.3 L947.7 546.8 L947.8 546.3 L948.0 546.2 L948.3 545.3 L948.6 545.4 L948.9 544.2 L948.9 544.6 L949.2 545.2 L949.5 545.5 L949.8 546.1 L949.9 546.3 L950.1 546.1 L950.4 544.6 L950.7 543.9 L950.9 542.9 L951.0 542.7 L951.3 544.6 L951.6 545.8 L951.9 547.5 L951.9 548.0 L952.2 545.0 L952.5 541.0 L952.6 539.5 L952.8 538.3 L953.1 531.0 L953.2 526.0 L953.4 523.1 L953.7 516.1 L953.9 507.4 L954.0 509.7 L954.3 511.9 L954.6 509.8 L954.9 514.8 L954.9 514.2 L955.2 509.9 L955.5 501.5 L955.6 500.7 L955.8 499.8 L956.1 496.8 L956.4 489.0 L956.6 487.2 L956.7 486.2 L957.0 486.6 L957.3 488.9 L957.6 490.0 L957.6 490.6 L957.9 485.7 L958.2 479.8 L958.3 475.4 L958.5 470.6 L958.8 468.1 L959.1 468.4 L959.3 461.9 L959.4 463.5 L959.7 454.7 L960.0 448.5 L960.3 438.5 L960.3 439.5 L960.6 423.7 L960.9 406.3 L961.0 395.6 L961.2 387.1 L961.5 373.1 L961.6 361.9 L961.8 354.9 L962.1 341.8 L962.3 329.4 L962.4 332.1 L962.7 333.5 L963.0 339.8 L963.0 339.5 L963.3 344.1 L963.6 348.8 L963.6 349.6 L963.9 345.1 L964.2 340.6 L964.3 339.5 L964.5 335.7 L964.8 332.3 L965.1 327.0 L965.3 326.0 L965.4 325.8 L965.7 316.9 L966.0 314.8 L966.0 312.5 L966.2 330.6 L966.3 329.5 L966.6 301.7 L966.7 295.6 L966.7 341.8 L966.9 330.1 L967.2 312.9 L967.2 310.2 L967.3 266.9 L967.5 287.0 L967.7 325.6 L967.8 319.3 L968.0 275.4 L968.1 276.9 L968.2 290.8 L968.4 296.7 L968.7 313.3 L968.7 312.5 L969.0 262.3 L969.0 249.2 L969.2 267.9 L969.3 272.6 L969.6 284.7 L969.7 295.3 L969.9 278.0 L970.0 249.2 L970.2 252.8 L970.5 259.7 L970.8 270.0 L971.1 280.1 L971.1 278.8 L971.4 268.2 L971.7 261.1 L972.0 254.5 L972.1 249.2 L972.3 249.2 L972.6 249.2 L972.9 249.2 L973.2 249.2 L973.4 249.2 L973.5 249.2 L973.8 249.2 L974.1 249.2 L974.4 249.2 L974.7 249.2 L975.0 249.2 L975.3 249.2 L975.6 249.2 L975.9 249.2 L976.2 249.2 L976.5 249.2 L976.5 249.2 L976.8 249.9 L977.1 254.6 L977.4 256.3 L977.7 257.0 L978.0 258.4 L978.1 258.5 L978.3 259.8 L978.6 258.7 L978.9 263.1 L979.2 267.8 L979.5 267.8 L979.8 268.5 L979.8 270.3 L980.1 275.0 L980.4 279.3 L980.7 279.3 L981.0 285.3 L981.2 287.2 L981.3 287.7 L981.6 293.3 L981.9 296.0 L982.2 299.3 L982.5 302.2 L982.5 304.9 L982.8 303.5 L983.1 296.5 L983.4 289.8 L983.5 287.2 L983.7 286.3 L984.0 279.4 L984.3 273.2 L984.6 265.6 L984.6 266.9 L984.9 260.0 L985.2 252.3 L985.2 249.2 L985.5 249.2 L985.8 251.4 L986.1 258.1 L986.4 261.1 L986.6 261.9 L986.7 261.7 L987.0 257.8 L987.3 253.2 L987.6 250.2 L987.6 249.2 L987.9 251.7 L988.2 258.7 L988.5 264.6 L988.6 270.3 L988.8 273.3 L989.1 272.0 L989.4 273.1 L989.7 279.3 L990.0 280.1 L990.0 278.8 L990.3 280.6 L990.6 287.4 L990.9 288.0 L991.2 290.4 L991.3 293.1 L991.5 289.9 L991.8 288.5 L992.1 285.8 L992.3 282.1 L992.4 282.1 L992.7 277.9 L993.0 272.7 L993.3 271.9 L993.3 270.3 L993.6 268.5 L993.9 263.7 L994.2 261.4 L994.3 261.9 L994.5 265.9 L994.8 270.6 L995.0 280.4 L995.1 276.7 L995.4 270.7 L995.7 260.9 L996.0 252.6 L996.0 249.2 L996.3 249.2 L996.6 249.2 L996.9 249.2 L997.2 249.2 L997.5 249.2 L997.8 249.2 L998.1 249.2 L998.1 249.2 L998.4 260.7 L998.7 272.7 L998.7 278.8 L999.0 283.7 L999.3 290.9 L999.4 295.6 L999.6 298.3 L999.9 307.2 L1000.1 310.8 L1000.2 312.8 L1000.5 310.2 L1000.8 312.3 L1001.1 314.4 L1001.1 314.2 L1001.4 310.2 L1001.7 310.5 L1002.0 311.5 L1002.1 309.1 L1002.3 314.2 L1002.6 323.5 L1002.8 332.8 L1002.9 333.1 L1003.2 340.5 L1003.5 347.8 L1003.5 348.0 L1003.8 342.2 L1004.1 336.8 L1004.4 332.1 L1004.5 329.4 L1004.7 327.3 L1005.0 323.8 L1005.3 320.5 L1005.5 319.3 L1005.6 317.5 L1005.9 314.1 L1006.2 310.2 L1006.5 311.3 L1006.5 309.1 L1006.8 312.2 L1007.1 318.3 L1007.2 320.9 L1007.4 325.4 L1007.7 333.9 L1007.8 337.8 L1008.0 336.9 L1008.3 330.7 L1008.6 323.5 L1008.9 319.1 L1008.9 319.3 L1009.2 321.3 L1009.5 325.1 L1009.8 327.5 L1009.9 329.4 L1010.1 328.0 L1010.4 326.3 L1010.7 325.3 L1010.9 322.6 L1011.0 322.3 L1011.3 321.0 L1011.6 320.5 L1011.9 321.7 L1011.9 320.9 L1012.2 323.9 L1012.5 327.7 L1012.8 330.9 L1012.9 332.8 L1013.1 332.6 L1013.4 329.8 L1013.7 325.7 L1013.9 324.3 L1014.0 324.4 L1014.3 324.5 L1014.6 326.9 L1014.9 329.6 L1014.9 329.4 L1015.2 329.1 L1015.5 329.0 L1015.8 324.9 L1015.9 326.0 L1016.1 327.1 L1016.4 329.9 L1016.7 329.4 L1017.0 330.0 L1017.0 332.8 L1017.3 332.2 L1017.6 335.8 L1017.9 339.5 L1018.0 339.5 L1018.2 339.0 L1018.5 342.2 L1018.8 342.9 L1019.0 346.3 L1019.1 349.1 L1019.4 349.4 L1019.7 350.2 L1020.0 352.1 L1020.0 353.0 L1020.3 354.5 L1020.6 353.8 L1020.9 355.2 L1021.0 356.4 L1021.2 353.8 L1021.5 351.1 L1021.8 346.4 L1022.0 342.0 L1022.1 343.0 L1022.4 345.3 L1022.7 349.8 L1023.0 354.1 L1023.0 354.7 L1023.3 350.8 L1023.5 346.3" clip-path="url(#cp)" fill="none" stroke="#376092" stroke-width="2.3" stroke-linejoin="round" stroke-linecap="round"/>
<path d="M74.1 319.4 L78.4 320.1 L81.8 324.3 L84.3 331.1 L86.9 342.9 L88.9 356.4 L89.9 365.0 L91.1 365.1 L92.3 388.8 L93.3 422.5 L94.5 456.3 L95.3 476.2 L97.0 481.3 L97.8 470.3 L98.7 453.4 L99.5 430.9 L100.7 405.6 L102.1 383.7 L103.8 371.0 L105.4 375.3 L107.1 382.0 L108.5 402.3 L109.2 430.9 L109.8 459.6 L110.8 495.6 L111.9 509.1 L113.0 500.7 L114.2 487.2 L115.6 475.4 L117.3 461.9 L118.9 450.1 L120.6 430.9 L122.7 405.6 L124.9 380.3 L127.4 355.0 L128.2 329.4 L129.9 324.3 L131.6 320.9 L133.3 319.6 L159.5 319.6 L161.1 324.3 L162.2 336.1 L162.8 349.6 L163.2 365.0 L163.7 405.6 L164.5 430.9 L165.5 449.5 L166.2 452.0 L167.2 439.4 L168.2 414.1 L169.6 385.4 L170.9 375.3 L172.3 378.6 L173.6 398.9 L175.0 422.5 L176.3 447.8 L178.0 469.8 L178.9 477.1 L180.0 483.5 L181.4 475.4 L182.7 461.9 L184.1 450.1 L184.8 446.1 L185.9 441.4 L187.3 446.1 L190.2 450.4 L191.9 458.0 L194.1 469.8 L196.2 482.1 L197.6 485.2 L198.9 477.1 L200.0 461.9 L201.0 450.1 L201.6 430.9 L203.3 397.2 L205.0 368.5 L206.4 355.0 L206.7 348.0 L208.4 344.9 L210.9 343.7 L213.5 343.7 L215.5 347.1 L217.2 341.2 L219.4 329.4 L221.6 322.6 L223.6 320.1 L225.3 319.6 L249.9 319.6 L251.6 321.8 L253.8 327.4 L255.5 324.3 L257.5 319.6 L287.9 319.6 L289.2 326.0 L290.1 342.9 L290.9 357.2 L291.9 346.3 L293.0 336.1 L294.3 333.6 L296.0 337.8 L298.0 332.8 L300.5 328.5 L302.7 326.9 L304.8 326.4 L306.5 328.5 L308.1 331.9 L310.2 334.5 L312.4 331.9 L314.9 328.5 L316.9 327.7 L319.1 331.1 L320.8 324.3 L322.5 321.8 L324.2 321.3 L325.9 323.5 L327.0 332.8 L328.1 346.3 L329.1 365.0 L330.4 376.9 L332.1 373.6 L333.5 380.3 L335.1 388.8 L336.8 391.8 L338.5 390.4 L340.2 387.1 L341.9 380.3 L342.7 365.0 L343.9 353.0 L345.3 341.2 L347.0 332.8 L348.6 329.1 L350.7 329.4 L352.0 334.5 L354.1 341.2 L356.2 353.0 L357.9 365.0 L358.1 383.7 L359.3 390.4 L360.1 385.4 L360.5 365.0 L362.2 354.7 L363.8 350.5 L365.5 353.0 L366.9 365.0 L368.2 383.7 L369.9 393.8 L370.4 403.6 L371.7 405.3 L373.1 401.9 L374.4 398.5 L375.4 401.9 L376.5 412.0 L377.5 422.1 L378.8 428.0 L380.2 418.8 L381.4 406.9 L382.5 398.5 L383.9 396.8 L384.2 395.0 L385.6 383.0 L386.9 369.5 L388.3 354.3 L389.6 340.8 L391.0 330.7 L392.7 323.9 L394.3 321.4 L396.5 320.2 L399.1 319.7 L407.5 319.7 L412.6 320.2 L417.6 320.9 L422.7 321.9 L425.2 323.9 L427.8 325.6 L429.5 329.0 L430.8 337.4 L432.0 350.9 L432.8 366.1 L433.8 381.3 L434.9 395.0 L435.9 406.9 L436.9 418.8 L437.9 427.2 L439.2 430.9 L440.9 430.2 L441.9 433.9 L443.0 442.4 L444.0 455.9 L445.0 472.8 L446.0 489.6 L446.4 504.1 L447.6 519.3 L448.9 529.4 L450.6 536.1 L452.7 539.5 L454.9 541.2 L457.4 541.5 L459.4 543.7 L461.6 545.9 L463.8 546.3 L465.5 542.9 L467.2 539.5 L468.5 537.0 L470.0 536.5 L471.7 533.6 L473.4 529.4 L475.1 520.9 L476.8 516.7 L478.0 517.6 L479.3 521.8 L480.7 525.7 L482.4 526.0 L484.1 528.0 L485.4 529.1 L486.8 526.0 L487.8 519.3 L489.1 509.1 L490.8 497.3 L492.8 487.2 L493.9 482.9 L494.9 469.4 L495.9 452.5 L497.0 432.3 L497.8 395.0 L499.0 383.0 L500.3 366.1 L501.7 352.6 L502.9 344.2 L504.6 337.4 L506.2 335.8 L507.9 340.0 L509.6 342.5 L510.8 337.4 L512.2 334.1 L514.2 334.1 L515.9 337.4 L517.2 345.9 L518.6 359.4 L519.9 372.9 L520.4 381.5 L522.1 385.7 L524.6 386.2 L526.3 384.0 L528.0 378.1 L529.7 373.0 L531.4 371.3 L533.0 374.7 L534.7 378.1 L536.9 379.8 L538.6 376.4 L540.0 369.6 L541.3 361.2 L542.7 356.1 L544.0 352.8 L545.4 347.7 L546.7 340.9 L548.1 336.7 L549.9 335.5 L551.6 336.7 L553.3 338.4 L555.0 337.6 L556.7 335.0 L558.4 332.5 L560.0 331.7 L561.7 335.0 L563.4 339.3 L565.1 343.5 L566.8 347.7 L568.5 354.5 L570.2 361.2 L571.9 369.6 L573.0 376.4 L574.4 378.1 L575.7 373.0 L577.1 368.0 L578.4 362.9 L579.8 359.5 L581.1 357.0 L582.5 352.8 L583.8 344.3 L585.2 335.9 L586.5 330.0 L588.2 324.9 L590.4 322.4 L593.0 320.7 L595.5 320.4 L598.0 320.7 L600.0 323.2 L601.4 329.1 L602.4 339.3 L603.4 356.1 L604.4 376.4 L605.2 402.3 L606.2 425.9 L607.2 442.8 L608.2 450.4 L609.2 451.2 L610.3 463.0 L611.3 487.2 L612.3 512.5 L613.3 532.8 L614.5 544.6 L616.2 548.3 L618.7 550.0 L621.2 550.5 L623.8 548.8 L625.4 545.4 L627.1 540.4 L628.5 538.7 L629.8 542.0 L631.4 546.3 L633.5 548.3 L635.6 547.6 L637.6 546.8 L639.6 545.9 L641.3 548.0 L643.2 550.5 L645.7 551.3 L649.1 551.3 L652.4 550.7 L655.0 551.3 L657.5 551.7 L659.2 550.5 L660.9 546.3 L662.6 539.5 L664.3 531.1 L665.9 520.9 L667.6 509.1 L669.3 495.6 L671.0 480.4 L672.4 465.3 L672.7 463.0 L673.7 446.1 L675.1 425.9 L676.4 410.7 L678.1 397.2 L679.8 385.4 L681.5 373.6 L683.2 363.4 L684.5 355.0 L685.5 343.5 L687.2 342.3 L689.2 340.9 L690.9 337.6 L692.6 332.5 L694.3 328.8 L696.3 326.1 L698.5 325.1 L701.0 324.9 L703.5 325.1 L705.2 326.6 L706.9 330.0 L708.6 333.4 L710.3 337.6 L712.0 344.3 L713.7 352.8 L715.2 365.1 L716.6 376.9 L717.6 393.8 L718.6 415.8 L719.3 436.0 L720.0 456.3 L720.6 488.9 L721.6 512.5 L723.0 526.0 L724.3 531.1 L726.4 532.4 L728.1 531.9 L729.1 539.5 L730.1 548.0 L731.8 550.5 L734.3 550.0 L736.8 550.5 L740.2 551.7 L750.3 551.8 L758.8 551.7 L762.2 550.5 L764.7 550.0 L767.2 551.0 L769.9 551.7 L775.4 551.3 L778.0 549.6 L780.5 547.6 L783.0 546.9 L786.4 546.6 L788.9 546.3 L790.6 544.2 L792.3 542.0 L794.0 540.9 L796.5 541.5 L799.1 542.9 L801.6 544.6 L804.1 545.3 L806.7 545.6 L808.4 547.1 L810.0 549.3 L812.6 550.5 L817.6 551.0 L824.4 551.0 L829.5 550.5 L832.8 549.6 L835.4 548.0 L837.9 546.8 L839.9 547.6 L842.1 548.8 L844.6 549.1 L848.0 548.3 L850.5 547.3 L852.2 544.6 L853.9 542.0 L855.6 539.9 L858.1 538.7 L859.8 536.1 L861.5 532.8 L863.2 531.9 L864.9 533.6 L866.6 537.8 L868.3 542.0 L870.0 543.4 L871.6 542.0 L873.3 538.7 L875.0 532.8 L876.7 525.2 L878.4 517.6 L879.7 513.9 L881.8 514.2 L883.8 513.4 L885.5 509.1 L887.7 507.1 L889.4 504.1 L891.1 499.0 L892.7 492.3 L894.4 484.7 L896.1 476.2 L897.8 471.2 L899.5 464.4 L901.2 455.1 L902.0 445.0 L902.9 426.0 L904.3 414.2 L905.6 409.1 L907.0 404.9 L908.5 399.0 L910.2 393.9 L911.9 389.7 L913.2 388.0 L914.4 390.6 L915.4 399.0 L916.4 412.5 L917.4 426.0 L918.4 439.5 L919.5 445.4 L920.5 444.6 L921.1 441.2 L921.8 449.6 L922.5 465.0 L923.2 461.9 L924.2 487.2 L925.2 509.1 L925.9 516.7 L927.3 514.2 L928.9 512.8 L930.6 512.5 L932.3 514.2 L934.0 517.6 L935.7 521.8 L937.4 526.9 L939.1 534.5 L940.8 540.4 L942.4 542.9 L944.1 541.2 L945.8 537.8 L947.5 536.5 L949.2 538.7 L950.9 540.9 L953.4 542.0 L955.9 543.7 L958.0 544.9 L959.7 543.7 L961.0 539.5 L962.0 526.0 L962.7 504.1 L963.4 478.8 L964.1 458.5 L964.2 446.3 L965.0 426.0 L966.0 404.1 L967.0 382.1 L968.1 361.9 L969.1 348.4 L969.4 336.1 L970.5 327.7 L972.2 323.5 L974.8 321.3 L978.1 320.9 L981.5 321.3 L984.1 322.3 L986.6 321.3 L990.0 320.9 L993.3 322.0 L996.7 321.3 L999.2 321.8 L1000.9 325.2 L1002.1 331.1 L1003.5 339.5 L1004.8 346.3 L1006.2 348.8 L1007.7 345.4 L1009.4 343.7 L1011.9 344.6 L1014.4 344.9 L1016.1 348.0 L1017.8 353.0 L1019.5 359.8 L1020.3 365.0 L1021.1 373.5 L1022.3 379.7 L1023.4 383.1" clip-path="url(#cp)" fill="none" stroke="#9BBB59" stroke-width="2" stroke-linejoin="round" stroke-linecap="round"/>
<line x1="74" x2="1023.8" y1="319.6" y2="319.6" stroke="#FF0000" stroke-width="2.1"/>
</g>
<rect x="126.9" y="633.5" width="26.4" height="6.5" fill="#D9D9D9"/>
<text x="157.2" y="640.6" font-size="12.2" font-weight="bold" fill="#4A7EBB" textLength="104.8" lengthAdjust="spacingAndGlyphs">Recession Periods</text>
<line x1="365.1" x2="391.9" y1="636.9" y2="636.9" stroke="#376092" stroke-width="2"/>
<text x="395.0" y="640.6" font-size="12.2" font-weight="bold" fill="#4A7EBB" textLength="102.0" lengthAdjust="spacingAndGlyphs">Yield Curve Score</text>
<line x1="598.5" x2="626.5" y1="636.9" y2="636.9" stroke="#9BBB59" stroke-width="1.7"/>
<text x="629.2" y="640.6" font-size="12.2" font-weight="bold" fill="#4A7EBB" textLength="91.4" lengthAdjust="spacingAndGlyphs">Recession Odds</text>
<line x1="824.1" x2="851.7" y1="636.9" y2="636.9" stroke="#FF0000" stroke-width="2.2"/>
<text x="854.8" y="640.6" font-size="12.2" font-weight="bold" fill="#4A7EBB" textLength="49.6" lengthAdjust="spacingAndGlyphs">Warning</text>
<rect x="0" y="663.8" width="1067" height="44.6" fill="#1F497D"/>
<text x="801.5" y="681.1" font-size="16.6" fill="#fff" textLength="164.1" lengthAdjust="spacingAndGlyphs" xml:space="preserve">Source:  Yahoo Finance</text>
<line x1="5.0" x2="5.0" y1="708.4" y2="711" stroke="#D0D7E5" stroke-width="1"/>
<line x1="76.0" x2="76.0" y1="708.4" y2="711" stroke="#D0D7E5" stroke-width="1"/>
<line x1="148.0" x2="148.0" y1="708.4" y2="711" stroke="#D0D7E5" stroke-width="1"/>
<line x1="220.0" x2="220.0" y1="708.4" y2="711" stroke="#D0D7E5" stroke-width="1"/>
<line x1="347.0" x2="347.0" y1="708.4" y2="711" stroke="#D0D7E5" stroke-width="1"/>
<line x1="428.5" x2="428.5" y1="708.4" y2="711" stroke="#D0D7E5" stroke-width="1"/>
<line x1="471.5" x2="471.5" y1="708.4" y2="711" stroke="#D0D7E5" stroke-width="1"/>
<line x1="514.5" x2="514.5" y1="708.4" y2="711" stroke="#D0D7E5" stroke-width="1"/>
<line x1="557.5" x2="557.5" y1="708.4" y2="711" stroke="#D0D7E5" stroke-width="1"/>
<line x1="600.5" x2="600.5" y1="708.4" y2="711" stroke="#D0D7E5" stroke-width="1"/>
<line x1="643.5" x2="643.5" y1="708.4" y2="711" stroke="#D0D7E5" stroke-width="1"/>
<line x1="686.5" x2="686.5" y1="708.4" y2="711" stroke="#D0D7E5" stroke-width="1"/>
<line x1="729.5" x2="729.5" y1="708.4" y2="711" stroke="#D0D7E5" stroke-width="1"/>
<line x1="772.5" x2="772.5" y1="708.4" y2="711" stroke="#D0D7E5" stroke-width="1"/>
<line x1="815.5" x2="815.5" y1="708.4" y2="711" stroke="#D0D7E5" stroke-width="1"/>
<line x1="858.5" x2="858.5" y1="708.4" y2="711" stroke="#D0D7E5" stroke-width="1"/>
<line x1="901.5" x2="901.5" y1="708.4" y2="711" stroke="#D0D7E5" stroke-width="1"/>
<line x1="944.5" x2="944.5" y1="708.4" y2="711" stroke="#D0D7E5" stroke-width="1"/>
<line x1="987.5" x2="987.5" y1="708.4" y2="711" stroke="#D0D7E5" stroke-width="1"/>
<line x1="1059.5" x2="1059.5" y1="708.4" y2="711" stroke="#D0D7E5" stroke-width="1"/>
</svg>
</body></html>
